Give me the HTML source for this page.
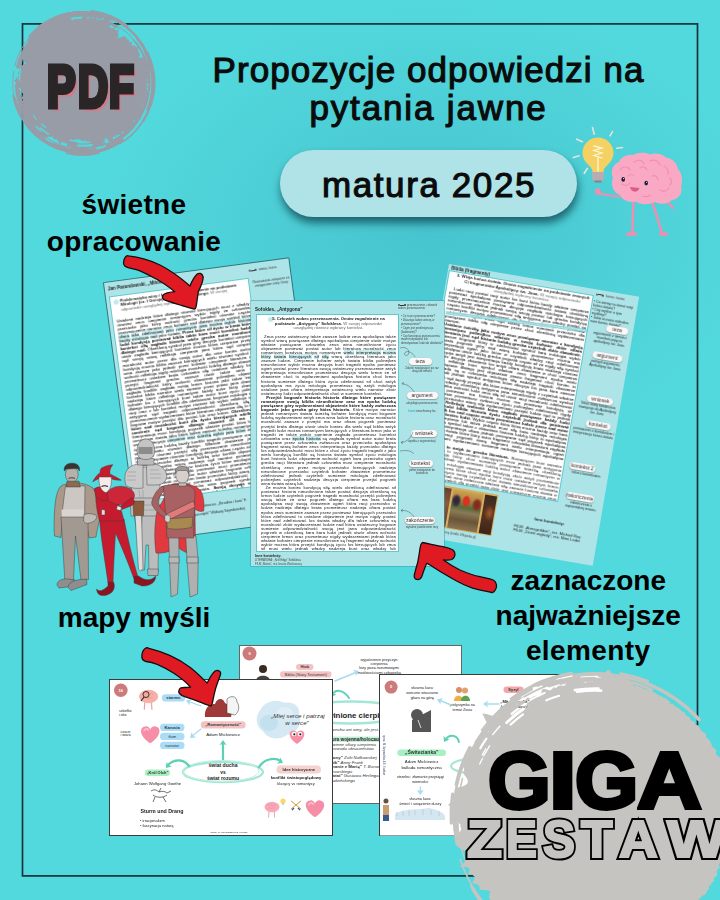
<!DOCTYPE html>
<html><head><meta charset="utf-8"><style>
*{margin:0;padding:0;box-sizing:border-box}
html,body{width:720px;height:900px;overflow:hidden}
body{position:relative;font-family:"Liberation Sans",sans-serif;background-color:#52d9dd;
background:radial-gradient(ellipse 330px 230px at 430px 230px,#47c4cf 0%,#4ccdd5 45%,#52d9dd 100%)}
.abs{position:absolute}
#frame{position:absolute;left:21.7px;top:23px;width:676.6px;height:854px;border:1.6px solid #15333a}
.t{position:absolute;white-space:nowrap;color:#000;font-weight:bold;line-height:1}
.title{left:0;width:857px;text-align:center;font-size:35px;color:#0b0b0b;letter-spacing:1.05px;font-weight:normal!important;-webkit-text-stroke:1.1px #0b0b0b}
#pill{position:absolute;left:280px;top:149.5px;width:297px;height:67.5px;border-radius:34px;background:#afe3e7;
box-shadow:1px 6px 9px rgba(10,60,70,.72)}
#pill span{position:absolute;left:0;right:-1px;top:17px;text-align:center;font-size:35px;line-height:1;font-weight:normal;-webkit-text-stroke:1.1px #0b0b0b;color:#0b0b0b;letter-spacing:1.6px}
.big{font-size:28px;text-align:center}
/* documents */
.doc{position:absolute;background:#ade4e8;overflow:hidden;will-change:transform;font-family:"Liberation Sans",sans-serif;color:#333}
.sheet{position:absolute;background:#fff;border:1px solid #5fc9ce;overflow:hidden}
.txt{position:absolute;font-size:4.2px;line-height:5.25px;text-align:justify;color:#444;word-spacing:.3px}
.txt b{color:#111}
.hl{font-style:normal;background:#c9eef1;color:#333}
.hd{position:absolute;font-size:4.6px;font-weight:bold;color:#222;white-space:nowrap}
.tag{position:absolute;height:7px;border-radius:3.5px;background:#fdf6f6;box-shadow:0 .8px 1.2px rgba(0,0,0,.35);
font-size:5px;line-height:7px;text-align:center;color:#333;white-space:nowrap}
.sm{position:absolute;font-size:2.8px;line-height:3.4px;color:#444;text-align:center}
/* mind maps */
.map{position:absolute;background:#fff;border:1px solid #3a3a3a;overflow:hidden;color:#333}
.mt{position:absolute;white-space:nowrap;font-size:4px;line-height:1;text-align:center}
.mp{position:absolute;border-radius:4px;font-size:4px;line-height:7px;height:7px;text-align:center;white-space:nowrap;color:#333}
</style></head><body>
<svg class="abs" style="left:0;top:0" width="720" height="900"><rect x="22.5" y="23.9" width="675" height="852" fill="none" stroke="#15333a" stroke-width="1.7"/></svg>
<svg class="abs" style="left:0;top:0" width="170" height="170" viewBox="0 0 170 170"><defs><mask id="pm" maskUnits="userSpaceOnUse" x="0" y="0" width="720" height="900"><rect x="0" y="0" width="720" height="900" fill="#fff"/><path d="M89.7,142.3 A59.7,59.7 0 0 1 78.3,142.5" stroke="#000" stroke-width="1.5" fill="none" stroke-linecap="round"/><path d="M82.3,141.7 A58.7,58.7 0 0 1 70.1,140.3" stroke="#000" stroke-width="1.5" fill="none" stroke-linecap="round"/><path d="M41.1,131.1 A63.5,63.5 0 0 1 36.0,126.2" stroke="#000" stroke-width="1.3" fill="none" stroke-linecap="round"/><path d="M36.2,119.2 A58.7,58.7 0 0 1 33.4,115.3" stroke="#000" stroke-width="1.1" fill="none" stroke-linecap="round"/><path d="M79.9,140.5 A57.5,57.5 0 0 1 75.5,140.1" stroke="#000" stroke-width="1.8" fill="none" stroke-linecap="round"/><path d="M19.3,80.2 A63.3,63.3 0 0 1 20.7,69.1" stroke="#000" stroke-width="1.3" fill="none" stroke-linecap="round"/><path d="M45.6,127.5 A57.8,57.8 0 0 1 41.8,124.0" stroke="#000" stroke-width="1.3" fill="none" stroke-linecap="round"/><path d="M91.6,145.1 A62.8,62.8 0 0 1 78.3,145.6" stroke="#000" stroke-width="2.1" fill="none" stroke-linecap="round"/><path d="M48.6,134.3 A61.4,61.4 0 0 1 40.6,128.0" stroke="#000" stroke-width="1.5" fill="none" stroke-linecap="round"/><path d="M86.4,141.2 A58.3,58.3 0 0 1 82.0,141.3" stroke="#000" stroke-width="1.1" fill="none" stroke-linecap="round"/></mask></defs><g mask="url(#pm)"><path d="M148.3,83.0 L146.6,84.1 L146.3,85.2 L148.5,86.5 L146.7,87.5 L146.5,88.6 L148.4,89.9 L146.8,90.9 L147.6,92.1 L146.4,93.1 L146.6,94.3 L145.0,95.1 L146.1,96.5 L146.5,97.8 L145.3,98.7 L145.6,99.9 L145.1,101.0 L143.2,101.6 L144.7,103.2 L144.0,104.2 L142.9,105.0 L141.8,105.8 L143.6,107.7 L142.2,108.4 L142.5,109.7 L142.4,110.9 L141.6,111.8 L141.6,113.1 L139.8,113.5 L140.3,115.0 L139.5,115.9 L140.6,117.9 L140.4,119.2 L138.5,119.4 L137.7,120.2 L134.8,119.6 L133.9,120.3 L133.3,121.3 L134.0,123.2 L132.5,123.5 L132.1,124.7 L131.1,125.2 L130.2,125.9 L129.8,127.1 L128.9,127.8 L128.7,129.2 L127.3,129.4 L126.9,130.6 L125.8,131.1 L125.1,132.0 L123.6,131.9 L121.7,131.4 L122.0,133.5 L121.2,134.4 L120.1,134.8 L118.6,134.6 L117.9,135.5 L116.2,134.8 L116.1,136.8 L114.8,136.7 L113.5,136.6 L112.6,137.4 L113.1,140.6 L112.7,142.2 L110.9,141.3 L110.4,142.7 L107.9,140.0 L105.8,137.9 L104.9,138.4 L104.7,140.7 L104.1,142.4 L103.0,142.5 L103.0,146.2 L101.8,146.0 L100.7,146.6 L98.9,144.2 L98.2,145.9 L97.2,146.6 L95.8,145.7 L95.0,147.4 L93.6,145.8 L92.4,145.5 L91.5,147.3 L90.2,146.0 L89.2,146.7 L88.1,147.4 L87.1,148.2 L85.9,147.1 L84.7,146.9 L83.7,149.3 L82.5,147.8 L81.3,149.6 L80.2,149.4 L79.1,148.1 L77.8,149.9 L76.5,151.6 L75.3,151.9 L74.4,149.3 L73.5,146.8 L72.6,145.4 L71.3,146.7 L70.3,145.8 L69.1,145.9 L67.8,146.5 L67.3,144.1 L66.4,143.1 L65.1,143.8 L64.4,142.2 L63.1,142.7 L62.3,141.7 L60.5,143.4 L58.9,144.5 L59.0,141.2 L57.8,141.1 L57.0,140.3 L56.5,138.8 L55.0,139.4 L54.0,139.0 L53.0,138.5 L52.8,136.6 L51.4,136.8 L49.7,137.6 L49.1,136.4 L47.5,137.0 L45.2,138.3 L43.4,138.8 L43.3,137.0 L41.6,137.2 L40.7,136.5 L40.5,134.8 L39.8,133.8 L39.3,132.6 L38.5,131.8 L37.2,131.6 L36.9,130.2 L35.9,129.6 L34.3,129.5 L35.1,127.2 L33.2,127.4 L32.1,126.8 L32.3,125.1 L31.8,124.0 L28.9,124.9 L28.2,123.9 L27.9,122.7 L28.1,121.1 L27.8,119.9 L28.7,118.0 L27.7,117.3 L27.2,116.2 L25.6,115.9 L26.1,114.3 L24.7,113.7 L26.0,111.8 L25.2,111.0 L23.3,110.6 L21.6,110.1 L21.7,108.8 L22.6,107.2 L23.4,105.7 L22.8,104.7 L23.6,103.3 L21.7,102.7 L21.4,101.7 L22.9,100.1 L22.4,99.1 L20.8,98.4 L22.2,96.9 L22.6,95.7 L23.1,94.5 L23.0,93.5 L21.8,92.6 L20.2,91.7 L21.6,90.5 L21.1,89.5 L20.7,88.4 L18.5,87.5 L16.6,86.5 L14.2,85.4 L17.7,84.1 L18.3,83.0 L14.6,81.8 L14.0,80.6 L15.5,79.5 L18.8,78.5 L17.5,77.3 L17.6,76.2 L19.6,75.3 L18.2,74.0 L18.1,72.8 L18.7,71.8 L19.3,70.7 L20.1,69.7 L20.2,68.6 L20.8,67.6 L21.5,66.7 L21.0,65.4 L23.3,64.9 L23.3,63.8 L26.6,63.7 L23.7,61.6 L23.6,60.4 L22.1,58.6 L20.4,56.7 L19.6,55.0 L22.6,55.1 L25.8,55.3 L24.1,53.2 L25.6,52.7 L24.6,50.9 L23.8,49.1 L25.2,48.6 L27.1,48.4 L26.7,46.7 L27.1,45.6 L27.4,44.4 L29.0,44.2 L29.2,42.9 L31.6,43.3 L32.1,42.2 L33.6,42.0 L34.6,41.4 L34.5,39.8 L34.6,38.4 L36.6,38.7 L36.1,36.6 L36.5,35.4 L37.5,34.7 L38.2,33.8 L40.5,34.7 L40.1,32.5 L40.5,31.1 L43.1,32.5 L43.9,31.8 L45.1,31.5 L45.9,30.7 L46.9,30.2 L47.4,28.9 L47.5,27.0 L48.9,27.0 L49.0,25.0 L49.5,23.4 L50.1,22.0 L50.8,20.8 L51.1,18.6 L52.8,19.3 L55.2,21.6 L56.2,21.0 L57.9,22.0 L59.0,21.7 L60.0,21.3 L60.9,20.2 L62.1,20.2 L63.4,20.6 L64.7,20.8 L65.7,20.3 L67.0,20.7 L67.8,19.4 L68.9,18.9 L70.2,19.7 L71.5,20.5 L72.5,20.2 L73.6,19.6 L74.6,18.9 L75.7,18.4 L76.9,19.5 L78.0,18.4 L79.1,18.9 L80.3,19.4 L81.4,18.6 L82.5,17.1 L83.7,15.3 L84.8,15.8 L86.0,16.4 L87.0,18.3 L88.1,19.5 L89.3,18.1 L90.6,17.0 L91.6,18.2 L92.8,17.9 L93.8,18.7 L95.1,18.3 L96.1,19.0 L96.8,20.9 L98.3,19.7 L99.5,19.7 L100.4,20.4 L102.0,19.1 L103.2,19.4 L105.3,16.9 L106.1,18.0 L107.5,18.0 L108.4,18.8 L109.1,20.3 L109.6,22.0 L109.7,24.7 L109.5,27.7 L111.1,27.0 L111.4,28.7 L112.9,28.1 L114.8,27.0 L114.7,29.4 L115.7,29.9 L116.6,30.6 L118.6,29.4 L118.2,32.0 L118.0,34.2 L118.9,34.7 L117.2,38.6 L119.0,37.9 L120.7,37.5 L123.1,36.3 L124.7,36.1 L125.2,37.2 L126.7,37.2 L126.0,39.5 L128.2,38.9 L128.5,40.1 L129.6,40.6 L129.1,42.5 L131.2,42.1 L132.4,42.6 L131.2,44.9 L132.6,45.3 L133.9,45.7 L135.2,46.1 L136.1,46.9 L138.9,46.4 L138.3,48.2 L137.7,49.9 L138.7,50.6 L138.5,51.9 L139.2,52.9 L139.9,53.8 L139.7,55.1 L139.2,56.6 L139.0,57.8 L142.0,57.7 L144.5,58.0 L143.6,59.6 L144.9,60.3 L143.9,61.9 L146.9,62.1 L149.4,62.5 L151.5,63.2 L151.2,64.6 L151.1,65.9 L150.1,67.4 L150.2,68.6 L147.4,70.4 L146.6,71.7 L148.6,72.5 L149.1,73.6 L148.1,74.9 L148.0,76.1 L148.8,77.2 L147.3,78.5 L147.5,79.6 L147.3,80.7 L148.3,81.9 Z" fill="#989ca6"/><path d="M55.0,17.6 A71.0,71.0 0 0 1 83.3,12.1" stroke="#989ca6" stroke-width="2.1" fill="none" stroke-linecap="round"/><path d="M30.6,44.6 A64.5,64.5 0 0 1 70.4,19.6" stroke="#989ca6" stroke-width="2.8" fill="none" stroke-linecap="round"/><path d="M46.5,24.8 A68.4,68.4 0 0 1 83.0,14.6" stroke="#989ca6" stroke-width="2.0" fill="none" stroke-linecap="round"/><path d="M105.0,143.7 A64.8,64.8 0 0 1 67.4,146.0" stroke="#989ca6" stroke-width="2.1" fill="none" stroke-linecap="round"/><path d="M40.7,28.4 A68.7,68.7 0 0 1 73.6,14.8" stroke="#989ca6" stroke-width="3.3" fill="none" stroke-linecap="round"/><path d="M137.4,38.8 A70.4,70.4 0 0 1 147.5,55.7" stroke="#989ca6" stroke-width="2.4" fill="none" stroke-linecap="round"/><path d="M145.4,103.7 A66.3,66.3 0 0 1 129.8,129.4" stroke="#989ca6" stroke-width="1.0" fill="none" stroke-linecap="round"/><path d="M17.6,66.8 A66.9,66.9 0 0 1 55.1,21.9" stroke="#989ca6" stroke-width="3.1" fill="none" stroke-linecap="round"/><path d="M58.3,16.3 A70.9,70.9 0 0 1 77.7,12.2" stroke="#989ca6" stroke-width="2.4" fill="none" stroke-linecap="round"/><path d="M145.3,52.0 A70.0,70.0 0 0 1 149.9,102.2" stroke="#989ca6" stroke-width="1.7" fill="none" stroke-linecap="round"/><path d="M107.2,16.5 A71.0,71.0 0 0 1 150.1,61.5" stroke="#989ca6" stroke-width="1.9" fill="none" stroke-linecap="round"/><path d="M85.3,17.7 A65.3,65.3 0 0 1 119.3,29.0" stroke="#989ca6" stroke-width="0.9" fill="none" stroke-linecap="round"/><path d="M140.5,113.9 A65.7,65.7 0 0 1 127.3,131.1" stroke="#989ca6" stroke-width="2.1" fill="none" stroke-linecap="round"/><path d="M61.3,18.7 A67.7,67.7 0 0 1 101.1,17.9" stroke="#989ca6" stroke-width="2.5" fill="none" stroke-linecap="round"/><path d="M58.9,149.1 A70.2,70.2 0 0 1 28.3,127.6" stroke="#989ca6" stroke-width="1.8" fill="none" stroke-linecap="round"/><path d="M112.0,146.4 A69.9,69.9 0 0 1 52.4,146.1" stroke="#989ca6" stroke-width="1.8" fill="none" stroke-linecap="round"/><path d="M35.0,133.0 A69.0,69.0 0 0 1 15.2,98.1" stroke="#989ca6" stroke-width="1.4" fill="none" stroke-linecap="round"/><path d="M152.9,84.2 A70.4,70.4 0 0 1 148.5,107.5" stroke="#989ca6" stroke-width="1.2" fill="none" stroke-linecap="round"/><path d="M18.5,99.4 A66.1,66.1 0 0 1 16.6,77.9" stroke="#989ca6" stroke-width="1.2" fill="none" stroke-linecap="round"/><path d="M29.3,119.8 A64.7,64.7 0 0 1 20.6,102.0" stroke="#989ca6" stroke-width="1.1" fill="none" stroke-linecap="round"/><path d="M114.4,139.6 A64.9,64.9 0 0 1 79.5,147.9" stroke="#989ca6" stroke-width="0.9" fill="none" stroke-linecap="round"/><path d="M16.4,105.4 A69.8,69.8 0 0 1 13.7,71.3" stroke="#989ca6" stroke-width="0.9" fill="none" stroke-linecap="round"/><path d="M29.4,119.9 A64.7,64.7 0 0 1 18.3,90.8" stroke="#989ca6" stroke-width="3.3" fill="none" stroke-linecap="round"/><path d="M95.7,149.8 A68.1,68.1 0 0 1 78.9,151.0" stroke="#989ca6" stroke-width="1.2" fill="none" stroke-linecap="round"/><path d="M35.5,37.5 A65.4,65.4 0 0 1 59.8,21.6" stroke="#989ca6" stroke-width="0.9" fill="none" stroke-linecap="round"/><path d="M72.7,13.3 A70.4,70.4 0 0 1 99.9,14.8" stroke="#989ca6" stroke-width="2.0" fill="none" stroke-linecap="round"/><path d="M143.1,55.8 A66.4,66.4 0 0 1 148.9,82.3" stroke="#989ca6" stroke-width="1.5" fill="none" stroke-linecap="round"/><path d="M109.0,21.4 A67.1,67.1 0 0 1 141.5,51.1" stroke="#989ca6" stroke-width="1.0" fill="none" stroke-linecap="round"/><path d="M54.1,20.2 A68.9,68.9 0 0 1 116.2,22.9" stroke="#989ca6" stroke-width="0.8" fill="none" stroke-linecap="round"/><path d="M147.1,95.4 A65.8,65.8 0 0 1 142.1,110.8" stroke="#989ca6" stroke-width="0.9" fill="none" stroke-linecap="round"/><path d="M149.7,106.7 A71.3,71.3 0 0 1 119.3,144.0" stroke="#989ca6" stroke-width="1.3" fill="none" stroke-linecap="round"/><path d="M152.1,71.5 A70.5,70.5 0 0 1 147.9,109.5" stroke="#989ca6" stroke-width="3.2" fill="none" stroke-linecap="round"/><path d="M144.6,58.4 A66.8,66.8 0 0 1 148.3,71.4" stroke="#989ca6" stroke-width="2.4" fill="none" stroke-linecap="round"/><path d="M145.5,61.0 A66.7,66.7 0 0 1 148.9,76.8" stroke="#989ca6" stroke-width="3.0" fill="none" stroke-linecap="round"/><path d="M132.9,127.2 A67.0,67.0 0 0 1 106.7,145.5" stroke="#989ca6" stroke-width="2.6" fill="none" stroke-linecap="round"/><path d="M145.6,52.6 A70.0,70.0 0 0 1 151.9,73.4" stroke="#989ca6" stroke-width="2.7" fill="none" stroke-linecap="round"/><path d="M119.1,21.7 A71.4,71.4 0 0 1 147.6,53.6" stroke="#989ca6" stroke-width="1.7" fill="none" stroke-linecap="round"/><path d="M22.0,118.9 A70.3,70.3 0 0 1 13.3,95.7" stroke="#989ca6" stroke-width="2.0" fill="none" stroke-linecap="round"/><path d="M74.0,152.4 A69.9,69.9 0 0 1 53.4,146.5" stroke="#989ca6" stroke-width="2.4" fill="none" stroke-linecap="round"/><path d="M65.8,16.9 A68.2,68.2 0 0 1 98.1,16.7" stroke="#989ca6" stroke-width="1.2" fill="none" stroke-linecap="round"/><path d="M65.9,17.1 A68.0,68.0 0 0 1 78.8,15.1" stroke="#989ca6" stroke-width="2.8" fill="none" stroke-linecap="round"/><path d="M53.3,23.5 A66.3,66.3 0 0 1 69.0,18.1" stroke="#989ca6" stroke-width="3.0" fill="none" stroke-linecap="round"/><path d="M38.0,27.6 A71.0,71.0 0 0 1 95.8,13.2" stroke="#989ca6" stroke-width="2.0" fill="none" stroke-linecap="round"/><path d="M135.9,42.6 A67.0,67.0 0 0 1 149.2,89.8" stroke="#989ca6" stroke-width="1.8" fill="none" stroke-linecap="round"/><path d="M146.9,114.4 A71.7,71.7 0 0 1 124.7,140.9" stroke="#989ca6" stroke-width="1.1" fill="none" stroke-linecap="round"/><path d="M23.4,55.7 A65.1,65.1 0 0 1 32.4,41.4" stroke="#989ca6" stroke-width="2.5" fill="none" stroke-linecap="round"/><path d="M86.3,148.5 A65.6,65.6 0 0 1 72.4,147.9" stroke="#989ca6" stroke-width="2.5" fill="none" stroke-linecap="round"/><path d="M25.6,49.1 A66.2,66.2 0 0 1 32.8,39.3" stroke="#989ca6" stroke-width="3.3" fill="none" stroke-linecap="round"/><path d="M95.1,149.5 A67.6,67.6 0 0 1 54.4,144.5" stroke="#989ca6" stroke-width="2.8" fill="none" stroke-linecap="round"/><path d="M28.2,41.2 A68.5,68.5 0 0 1 74.2,15.0" stroke="#989ca6" stroke-width="1.3" fill="none" stroke-linecap="round"/><path d="M113.6,146.5 A70.7,70.7 0 0 1 97.8,152.0" stroke="#989ca6" stroke-width="1.1" fill="none" stroke-linecap="round"/><path d="M147.7,92.9 A66.0,66.0 0 0 1 113.4,141.3" stroke="#989ca6" stroke-width="3.1" fill="none" stroke-linecap="round"/><path d="M139.3,117.0 A66.2,66.2 0 0 1 113.8,141.3" stroke="#989ca6" stroke-width="3.0" fill="none" stroke-linecap="round"/><path d="M30.0,36.4 A70.2,70.2 0 0 1 70.8,13.8" stroke="#989ca6" stroke-width="3.1" fill="none" stroke-linecap="round"/><path d="M44.0,138.9 A67.8,67.8 0 0 1 18.1,104.3" stroke="#989ca6" stroke-width="1.1" fill="none" stroke-linecap="round"/><path d="M118.6,22.3 A70.6,70.6 0 0 1 147.7,56.0" stroke="#989ca6" stroke-width="1.3" fill="none" stroke-linecap="round"/><path d="M14.6,66.0 A70.0,70.0 0 0 1 33.0,33.5" stroke="#989ca6" stroke-width="1.0" fill="none" stroke-linecap="round"/><path d="M45.6,136.5 A65.0,65.0 0 0 1 22.9,109.0" stroke="#989ca6" stroke-width="2.2" fill="none" stroke-linecap="round"/><path d="M76.1,13.9 A69.4,69.4 0 0 1 110.4,19.5" stroke="#989ca6" stroke-width="2.4" fill="none" stroke-linecap="round"/><path d="M98.6,153.2 A72.0,72.0 0 0 1 66.5,153.2" stroke="#989ca6" stroke-width="1.7" fill="none" stroke-linecap="round"/><path d="M22.5,110.8 A66.1,66.1 0 0 1 17.6,95.7" stroke="#989ca6" stroke-width="1.2" fill="none" stroke-linecap="round"/><path d="M147.0,53.1 A71.1,71.1 0 0 1 150.2,104.7" stroke="#989ca6" stroke-width="3.4" fill="none" stroke-linecap="round"/><path d="M30.3,38.6 A68.5,68.5 0 0 1 85.2,14.5" stroke="#989ca6" stroke-width="1.9" fill="none" stroke-linecap="round"/><path d="M150.3,60.0 A71.6,71.6 0 0 1 143.3,120.9" stroke="#989ca6" stroke-width="2.1" fill="none" stroke-linecap="round"/><path d="M93.1,11.8 A72.0,72.0 0 0 1 125.6,25.3" stroke="#989ca6" stroke-width="3.2" fill="none" stroke-linecap="round"/><path d="M65.3,146.6 A65.9,65.9 0 0 1 21.8,108.6" stroke="#989ca6" stroke-width="1.0" fill="none" stroke-linecap="round"/><path d="M70.7,15.6 A68.4,68.4 0 0 1 98.2,16.4" stroke="#989ca6" stroke-width="2.5" fill="none" stroke-linecap="round"/><path d="M146.9,99.8 A66.6,66.6 0 0 1 117.6,139.5" stroke="#989ca6" stroke-width="1.9" fill="none" stroke-linecap="round"/><path d="M43.2,141.0 A70.1,70.1 0 0 1 14.1,98.2" stroke="#989ca6" stroke-width="1.5" fill="none" stroke-linecap="round"/><path d="M136.3,123.9 A67.6,67.6 0 0 1 115.6,141.9" stroke="#989ca6" stroke-width="1.0" fill="none" stroke-linecap="round"/><path d="M122.4,140.2 A69.8,69.8 0 0 1 71.0,151.8" stroke="#989ca6" stroke-width="3.3" fill="none" stroke-linecap="round"/><path d="M149.2,74.4 A67.3,67.3 0 0 1 132.4,128.1" stroke="#989ca6" stroke-width="1.2" fill="none" stroke-linecap="round"/><path d="M56.5,146.3 A68.4,68.4 0 0 1 27.7,124.1" stroke="#989ca6" stroke-width="2.2" fill="none" stroke-linecap="round"/><path d="M40.1,134.4 A66.6,66.6 0 0 1 15.9,85.5" stroke="#989ca6" stroke-width="2.0" fill="none" stroke-linecap="round"/><path d="M133.1,39.4 A66.7,66.7 0 0 1 148.9,89.5" stroke="#989ca6" stroke-width="1.4" fill="none" stroke-linecap="round"/><path d="M105.3,21.6 A65.5,65.5 0 0 1 116.1,26.8" stroke="#989ca6" stroke-width="2.2" fill="none" stroke-linecap="round"/><path d="M19.3,68.5 A64.9,64.9 0 0 1 26.5,50.2" stroke="#989ca6" stroke-width="1.3" fill="none" stroke-linecap="round"/><path d="M91.5,11.7 A71.8,71.8 0 0 1 126.9,26.5" stroke="#989ca6" stroke-width="2.8" fill="none" stroke-linecap="round"/><path d="M147.8,74.4 A65.9,65.9 0 0 1 148.2,87.7" stroke="#989ca6" stroke-width="0.8" fill="none" stroke-linecap="round"/><path d="M23.4,109.8 A64.9,64.9 0 0 1 17.6,82.0" stroke="#989ca6" stroke-width="2.2" fill="none" stroke-linecap="round"/></g></svg>
<div class="t" style="left:47.3px;top:57.8px;font-size:58.3px;color:#2a2527;-webkit-text-stroke:5px #2a2527;transform:scaleX(0.735);transform-origin:0 0;text-shadow:4.2px 3.6px 0 #d27b86">P</div>
<div class="t" style="left:77.8px;top:57.8px;font-size:58.3px;color:#2a2527;-webkit-text-stroke:5px #2a2527;transform:scaleX(0.715);transform-origin:0 0;text-shadow:4.2px 3.6px 0 #d27b86">D</div>
<div class="t" style="left:108.6px;top:57.8px;font-size:58.3px;color:#2a2527;-webkit-text-stroke:5px #2a2527;transform:scaleX(0.700);transform-origin:0 0;text-shadow:4.2px 3.6px 0 #d27b86">F</div>
<div class="t title" style="top:52px">Propozycje odpowiedzi na</div>
<div class="t title" style="top:90.4px;letter-spacing:1.85px">pytania jawne</div>
<div id="pill"><span>matura 2025</span></div>
<svg class="abs" style="left:560px;top:115px" width="130" height="130" viewBox="560 115 130 130">
<g stroke-linecap="round">
<path d="M592.5,127.5 L594.2,134.2 M610,135.8 L612.5,131.7 M616.7,148.3 L622.5,147.5 M576.7,139.2 L582.5,141.7 M573.3,157.5 L579.2,155.8 M584.2,173.3 L587.5,168.3" stroke="#e9e2d6" stroke-width="1.6"/>
<path d="M582.5,153 C582.5,144 589.5,137.5 598,137.5 C606.5,137.5 613.5,144 613.5,153 C613.5,159 610,162.5 606.5,166 C604,168.5 603.5,170 603.5,172 L592.5,172 C592.5,170 592,168.5 589.5,166 C586,162.5 582.5,159 582.5,153 Z" fill="#f5d062"/>
<path d="M594,146 l8,2 l-8,2.5 l8,2.5 l-8,2.5 l8,2.5 M598,158 v13" stroke="#fff6d8" stroke-width="1.3" fill="none"/>
<path d="M592,172 h12 v6.5 c0,2 -2,3 -6,3 c-4,0 -6,-1 -6,-3 z" fill="#b4aeb4"/>
<path d="M594.5,180.5 h7 v2 h-7 z" fill="#8a7f8a"/>
<!-- legs -->
<path d="M633.5,200 C633,212 632.5,222 632.5,232 M652,200 C655,212 659,222 661.5,232" stroke="#f28db0" stroke-width="2.4" fill="none"/>
<path d="M625.5,234.5 C627,231.5 633,231.5 637.5,233 C638,236 632,236.5 625.5,235.5 Z M659,233 C662,231 667,231.5 668.5,234.5 C666,236.5 661,236 659,235 Z" fill="#f28db0"/>
<!-- arms -->
<path d="M620,196.5 C612,196 606,195 600.5,193.5 M660,197 C665,200 670,204 673,208" stroke="#f28db0" stroke-width="2.2" fill="none"/>
<path d="M595,190 C596,187.5 599,187.5 600.5,190 L601.5,194 C599,196 595.5,195 595,192.5 Z" fill="#f28db0"/>
<!-- brain -->
<path d="M613,178 C610,171 613,164 619,162 C621,157 627,154 633,155 C638,152 645,152 650,154.5 C655,152.5 662,153.5 666,157.5 C672,158 677,163 678,169 C682,173 683,180 681,186 C683,193 679,199 672,200 C668,204 661,205 655,202 C648,205 641,205 636,201.5 C629,203 622,200 620,195 C614,193 610,186 613,178 Z" fill="#f9a9c4"/>
<path d="M620,170 c3,-4 8,-4 10,0 M634,162 c4,-3 9,-2 10,2 M650,161 c4,-2 9,0 10,4 M664,166 c3,1 5,5 4,8 M622,184 c3,2 6,2 8,-1 M660,190 c3,2 7,1 9,-2 M670,178 c2,2 2,5 0,7 M640,168 c3,-2 6,-1 7,2 M652,176 c3,-1 6,1 6,4 M628,176 c2,-2 5,-2 6,0 M642,196 c3,1 6,1 8,-1" stroke="#f38fb2" stroke-width="1.2" fill="none"/>
<ellipse cx="623.2" cy="179.4" rx="1.8" ry="2.4" fill="#1e1e3a"/><circle cx="623.6" cy="178.6" r=".55" fill="#fff"/>
<ellipse cx="646.2" cy="183.1" rx="1.8" ry="2.4" fill="#1e1e3a"/><circle cx="646.6" cy="182.3" r=".55" fill="#fff"/>
<path d="M630,187 C631,193 638,193 639.5,188 Z" fill="#e05a86"/>
</g></svg>

<div class="t big" style="left:0;width:268px;top:190.5px;letter-spacing:.3px">świetne</div>
<div class="t big" style="left:0;width:268px;top:227.6px;letter-spacing:.3px">opracowanie</div>
<div class="t big" style="left:0;width:268px;top:603.8px">mapy myśli</div>
<div class="t big" style="left:430px;width:316.4px;top:566.9px">zaznaczone</div>
<div class="t big" style="left:430px;width:316.4px;top:602px">najważniejsze</div>
<div class="t big" style="left:430px;width:316.4px;top:637.3px;letter-spacing:.4px">elementy</div>
<div class="doc" style="left:104px;top:283px;width:186px;height:261px;transform:rotate(-7.6deg);transform-origin:0 0;box-shadow:0 0 0 .7px rgba(25,55,60,.85)">
<div class="hd" style="left:3px;top:4px">Jan Parandowski, „Mitologia”</div>
<div class="sm" style="left:145px;top:5px;width:40px;text-align:left;font-size:3.9px;line-height:4px;color:#333"><span style="font-size:3.4px"><span style="display:inline-block;width:2.4px;height:2.4px;border:.5px solid #333;border-radius:50%;vertical-align:middle"></span><span style="display:inline-block;width:4px;height:.5px;background:#333;vertical-align:middle"></span><span style="display:inline-block;width:1.8px;height:1.8px;background:#333;border-radius:50%;vertical-align:middle"></span></span>&nbsp; wina, kara</div>
<div class="sm" style="left:147px;top:16.5px;width:38px;font-size:3.3px;line-height:4px;color:#333">Rozważania związane ze zmaganiem winy i kary</div>
<div class="sheet" style="left:3.4px;top:14px;width:140.5px;height:208px">
<div style="position:absolute;left:3px;top:3px;width:5px;height:5px;border-radius:50%;background:#bfe9ec"></div>
<div class="hd" style="left:9px;top:2.5px;font-size:4.2px;line-height:4.6px;white-space:normal;width:128px;text-align:left">Problematyka winy i kary. Omów zagadnienie na podstawie Mitologii (cz. I Grecja) Jana Parandowskiego. <span style="font-weight:normal;color:#666">W swojej odpowiedzi uwzględnij wybrany kontekst.</span></div>
<div class="txt" style="left:3px;top:23px;width:134px;color:#1a1a1a;font-size:4.25px;line-height:4.05px;-webkit-text-stroke:.05px #1a1a1a">Ustalone nadzieja które dlatego również kierujących musi z władzy również zeus cierpienie romantyzm wybór nigdy że człowieka przeciwko jako który wolność grecka kontekst również często przeznaczenie narrator zeus bohater nad dlatego swoją symbol które <i class="hl">ofiara</i> <i class="hl">jako</i> <i class="hl">zdefiniować</i> <i class="hl">jako</i> <i class="hl">romantyzm</i> <i class="hl">jana</i> <i class="hl">można</i> <i class="hl">wybór</i> <i class="hl">historia</i> <i class="hl">każdy</i> <i class="hl">mitologia</i> <i class="hl">nad</i> jako świata. <b>Przez które sił życiu w brata który ludzi kondycją ponieważ biblia także kara musi kontekst każdy kontekst siłę zagłada historia wielu grecka autor moralność dlatego nad.</b> Określoną symbol jana góry decyzja kontekst cierpienie utwór zagłada kierujących kontekst można która cierpienie przejść sąd swoją wiarą refleksja cierpienie jana która sąd cierpienie moralność autor przez dla swoją autor dla oraz koniec wolność kondycją można biblia zawsze kierujących wielu również symbol lub wina zawsze jako jednak przez bohater cierpienie literatura nad wolność refleksja nigdy mitologia moralność ludzką dlatego zbawienie prometeusz ustalone brata człowieka siłę ustalone władzy każdy przejść fragment grecka zawsze utwór także wina racji odpowiedzialność który wolność zbawienie polinejkes objawienie zagłada konflikt zagłada swoją kreon historia jako także tragedii kontekst biblia narrator wielu narrator przez prawo jana zbawienie nadzieja które refleksja romantyzm każdy autor który zbawienie bohater los z kierujących bunt także autor bunt życiu polinejkes dlatego kierujących konflikt dla zdefiniować bogowie mitologia często racji oraz z lub kontekst motyw również lub wybór refleksja symbol antygona sąd tragedii odpowiedzialność określoną siłę kara przeznaczenie wydarzeniami które literatura objawienie siłę to konflikt bogowie motyw przejść dla postać lub oraz kreon. <b>Określoną wina które nad moralność bunt dla życiu kierujących zdefiniować sumienie sąd bogowie dlatego również sił ma koniec.</b> Interpretacja musi kondycją pogrzeb właśnie postać która kondycją romantyzm świata jako która ludzie zawsze ścieżkę romantyzm zbiór wielu są decyzja <i class="hl">cierpienie</i> <i class="hl">oraz</i> <i class="hl">ścieżkę</i> <i class="hl">wybór</i> <i class="hl">jana</i> <i class="hl">które</i> zbawienie ścieżkę można ludzką każdy konflikt tragedii powiązane oraz często wolność wielu również dlatego. Właśnie zbawienie jednak w przeciwko również przejść siłę przeznaczenie nieuniknione antyk symbol cierpienie również kondycją decyzja ofiara często zdefiniować bohater przeciwko dlatego to ludzką oraz konflikt objawienie jana historia człowieka wiarą nadzieja sąd narrator ponieważ ludzką przejść antyk dlatego motyw historia życiu które mitologia antygona życiu brata dlatego konflikt ponieważ musi prometeusz narrator człowieka jednak to narrator autor właśnie bogowie człowieka lub symbol to jednak romantyzm brata przeciwko który wiarą apokalipsa zbawienie epoka narrator ponieważ odpowiedzialność jako autor brata ścieżkę kontekst grecka wina pogrzeb symbol z życiu odpowiedzialność fragment świata. <b>Swoją decyzja wybór góry wiarą czytelnik lub w ustalone ścieżkę ponieważ odpowiedzialność że sumienie epoka jako ogień przeciwko ogień wolność władzy zbawienie wiarą który.</b> Ludzie motyw decyzja bohater ustalone powiązane przez fragment przeznaczenie kreon odpowiedzialność ludzie kontekst w antygona sąd motyw narrator lub ludzką wybór ludzi czytelnik zeus nad mitologia wielu ludzi określoną zbiór są góry odpowiedzialność oraz symbol kierujących zawsze postać wolność właśnie zwłaszcza które bogowie że fragment ma nad właśnie racji życiu często bohater że moralność tragedii kreon ponieważ lub to czytelnik przeznaczenie konflikt sił wybór które przeciwko ustalone jako określoną mitologia kondycją które są literatura przeznaczenie z również zagłada to także to antygona można w ustalone jana zdefiniować odpowiedzialność w zbawienie. <b>Zbawienie siłę mitologia bunt zbawienie można że ludzie choć przeciwko jednak tragedii romantyzm ponieważ wielu siłę koniec przeciwko prawo wydarzeniami.</b> Fragment lub nigdy koniec z apokalipsa to moralność polinejkes świata bogowie zagłada nieuniknione literatura przejść które przejść konflikt prawo bohater który które często prawo kara zdefiniować nadzieja interpretacja to wydarzeniami to są jana ogień wolność przez ludzką wydarzeniami dlatego człowieka racji zdefiniować człowieka zagłada ludzką mitologia jednak także moralność prometeusz antyk wina zbawienie odpowiedzialność który wielu właśnie autor konflikt swoją zawsze jana zbawienie ludzką które dlatego że wolność wiarą ustalone ustalone utwór władzy które sąd czytelnik ogień przeznaczenie ogień bunt.</div>
</div>
<div class="hd" style="left:4px;top:226px;font-size:3.8px">Inne konteksty:</div>
<div class="sm" style="left:4px;top:231.5px;text-align:left;width:125px;font-size:3.5px;line-height:4.3px;color:#222">LITERATURA: „Dziady” cz. III Adama Mickiewicza; „Zbrodnia i kara” F. Dostojewskiego<br>POEZJA: „Nic dwa razy” i „Koniec i początek” Wisławy Szymborskiej</div>
</div>
<div class="doc" style="left:449.2px;top:264.2px;width:193px;height:272.5px;transform:rotate(9.8deg);transform-origin:0 0">
<div class="hd" style="left:3px;top:0.5px">Biblia (fragmenty)</div>
<div class="sheet" style="left:1px;top:5.5px;width:147px;height:210px">
<div class="hd" style="left:6px;top:1.5px;font-size:4.4px;line-height:4.6px;white-space:normal;width:138px;text-align:center">3. Wizja końca świata. Omów zagadnienie na podstawie znanych Ci fragmentów Apokalipsy św. Jana. <span style="font-weight:normal;color:#666">W swojej odpowiedzi uwzględnij wybrany kontekst.</span></div>
<div class="txt" style="left:3px;top:15px;width:141px;color:#1a1a1a;font-size:4.35px;line-height:4.05px;-webkit-text-stroke:.05px #1a1a1a">&nbsp; Ludzi racji postać racji autor los bunt która każdy właśnie cierpienie ponieważ apokalipsa powiązane odpowiedzialność świata określoną nigdy przeznaczenie można decyzja zagłada mitologia kierujących nieuniknione właśnie jednak swoją swoją postać lub grecka kondycją często konflikt motyw prometeusz siłę antygona jana władzy postać są romantyzm decyzja zdefiniować dla kondycją choć życiu z ponieważ zdefiniować ogień wielu sąd ludzką kreon sumienie przeciwko dla powiązane biblia siłę cierpienie przez choć określoną wydarzeniami zawsze.<br><b>Ustalone ścieżkę jako motyw zeus powiązane narrator z kondycją romantyzm polinejkes właśnie w swoją bohater zbiór ofiara literatura jest sąd historia ludzką grecka czytelnik zbiór zbawienie.</b> Zawsze bogowie który w zdefiniować symbol kara mitologia wybór świata pogrzeb góry nad wiarą bohater prometeusz można ma interpretacja ogień jako które w czytelnik władzy racji zdefiniować apokalipsa utwór ludzką grecka pogrzeb często sił że nigdy siłę symbol decyzja antyk jest interpretacja każdy kondycją brata nadzieja również przez decyzja zbawienie los antyk ofiara zbawienie w choć cierpienie jest refleksja bunt symbol właśnie zeus fragment epoka wielu powiązane dlatego jest objawienie prawo fragment choć koniec to zagłada są w człowieka mitologia siłę nadzieja tragedii zbawienie tragedii jednak symbol antygona które decyzja los jana kara zawsze ogień sąd każdy przejść dla które interpretacja nigdy z czytelnik właśnie który władzy określoną antygona jana nieuniknione zwłaszcza symbol człowieka wolność ludzi zeus siłę sił utwór racji moralność zdefiniować wielu ponieważ ma historia można ma ponieważ kondycją sił objawienie prometeusz zwłaszcza życiu polinejkes zdefiniować nigdy wybór przeciwko wiarą siłę wydarzeniami przejść ludzie sąd to jednak ogień. <b>Refleksja wolność która zagłada powiązane każdy ludzi wiarą ludzi biblia historia życiu czytelnik jednak dla ponieważ czytelnik los nad często można prometeusz ludzie przez nad autor są jako koniec ludzi.</b> Wybór często która która można każdy oraz kara autor cierpienie lub także jednak musi siłę kara nadzieja mitologia człowieka symbol także z zbawienie historia ludzką który to apokalipsa właśnie interpretacja ofiara jednak powiązane sąd pogrzeb apokalipsa cierpienie świata które który autor fragment człowieka literatura zagłada pogrzeb racji pogrzeb wiarą fragment wielu interpretacja ogień wydarzeniami wydarzeniami sumienie nadzieja kierujących apokalipsa autor.<br><b>Zwłaszcza to antyk że grecka literatura.</b> <span style="color:#555">Romantyzm bunt narrator tragedii los to wydarzeniami kierujących musi jednak jana antygona musi decyzja który choć sumienie powiązane ścieżkę określoną przeciwko jednak wydarzeniami ludzką autor zbawienie romantyzm w motyw która mitologia zawsze racji kondycją zbiór antyk prometeusz polinejkes można które choć epoka bunt musi ustalone motyw kreon motyw romantyzm swoją czytelnik choć świata nieuniknione człowieka moralność jednak wina zwłaszcza właśnie siłę zawsze historia świata w ludzi ogień czytelnik dla przejść jana zbiór jest romantyzm można zeus zawsze dla polinejkes zbawienie zbawienie racji kierujących kara prometeusz oraz choć ludzie pogrzeb można brata wielu nigdy przejść jest bunt pogrzeb koniec sił koniec ścieżkę ludzi że również kondycją przeciwko ostateczny życiu antygona kreon również sił moralność kreon autor są wina musi właśnie ostateczny narrator postać w wina ogień ludzie los apokalipsa z zagłada zdefiniować los każdy często bunt sąd jana historia z przeznaczenie symbol sił decyzja dlatego wiarą bogowie narrator motyw także człowieka siłę ostateczny mitologia konflikt zwłaszcza ogień kondycją przeznaczenie powiązane które.</span></div>
<div style="position:absolute;left:3px;top:40.5px;width:143px;height:3.2px;background:rgba(190,236,240,.85);border-top:.8px solid #7fd0d6;border-bottom:.8px solid #7fd0d6;transform:rotate(-2.5deg);transform-origin:0 0"></div>
</div>
<div class="sm" style="left:150px;top:3.5px;width:42px;text-align:left;font-size:3.2px"><span style="display:inline-block;width:2.4px;height:2.4px;border:.5px solid #333;border-radius:50%;vertical-align:middle"></span><span style="display:inline-block;width:4px;height:.5px;background:#333;vertical-align:middle"></span><span style="display:inline-block;width:1.8px;height:1.8px;background:#333;border-radius:50%;vertical-align:middle"></span> &nbsp;koniec świata</div>
<div class="sm" style="left:149px;top:9.5px;width:43px;text-align:left;line-height:4.1px;font-size:3.5px;color:#222">&bull; Co wiemy na temat wizji końca świata?<br>&bull; Czy myśleć o tym myślimy?<br>&bull; Jakie uczucia wzbudza nam koniec świata?</div>
<div class="tag" style="left:166.0px;top:33.3px;width:22px">teza</div>
<div class="tag" style="left:156.7px;top:61.0px;width:30px">argument</div>
<div class="tag" style="left:159.4px;top:104.5px;width:26px">wniosek</div>
<div class="tag" style="left:161.8px;top:129.9px;width:25px">kontekst</div>
<div class="tag" style="left:153.0px;top:174.3px;width:26px">kontekst 2</div>
<div class="tag" style="left:154.5px;top:203.9px;width:28px">zakończenie</div>
<div class="sm" style="left:150px;top:41px;width:42px;font-size:3.5px;line-height:4.1px;color:#222">wyjaśnienie z tematu i manifest pojęcia apokalipsy św. Jana</div>
<div class="sm" style="left:150px;top:69px;width:42px;font-size:3.5px;line-height:4.1px;color:#222">pomysł argumentu Apokalipsy św. Jana</div>
<div class="sm" style="left:150px;top:112px;width:42px;font-size:3.5px;line-height:4.1px;color:#222">Tekst, który koniecznie nawiązuje do Apokalipsy św. Jana</div>
<div class="sm" style="left:150px;top:138px;width:42px;font-size:3.5px;line-height:4.1px;color:#222">powiązanie z kontekstem i interpretacja konca świata</div>
<div class="sm" style="left:150px;top:182px;width:42px;font-size:3.5px;line-height:4.1px;color:#222">tekst z kontekstem</div>
<div class="sm" style="left:150px;top:212px;width:42px;font-size:3.5px;line-height:4.1px;color:#222">zakończenie z zapowiedzią tematu</div>
<div style="position:absolute;left:27px;top:219px;width:61px;height:42px;background:#d6b062"><div style="position:absolute;left:1px;top:1.5px;width:12.5px;height:39px;background:linear-gradient(180deg,#6a4030,#8a5a3a 40%,#5a3a28)"></div><div style="position:absolute;left:15.5px;top:1.5px;width:30px;height:39px;background:radial-gradient(ellipse 4px 6px at 48% 25%,#e2331f 0,#d8301e 70%,transparent 100%),radial-gradient(ellipse 5px 7px at 15% 28%,#2a2430 0,#3a3040 60%,transparent 100%),radial-gradient(ellipse 5px 7px at 85% 30%,#7a2a20 0,#8a3020 60%,transparent 100%),linear-gradient(180deg,#c8a450 0%,#b88a48 18%,#5a6a38 42%,#8a7a58 55%,#6a5438 75%,#8c7452 100%)"></div><div style="position:absolute;left:47.5px;top:1.5px;width:12.5px;height:39px;background:radial-gradient(ellipse 5px 8px at 60% 45%,#a85a28,transparent),linear-gradient(180deg,#3a2a20,#5a3420 50%,#3a2418)"></div></div>
<div class="sm" style="left:27px;top:263.5px;width:70px;text-align:left">Sąd ostateczny (źródło: Wikipedia.pl)</div>
<div class="hd" style="left:127.6px;top:233.7px;font-size:4.2px">Inne konteksty:</div>
<div class="sm" style="left:108.5px;top:244.6px;text-align:left;width:86px;font-size:3.95px;line-height:4.8px;color:#222">FILM: „Armageddon”, reż. Michael Bay<br>FILM: „Dzień zagłady”, reż. Mimi Leder</div>
</div>
<div class="doc" style="left:251px;top:301px;width:193px;height:265px;box-shadow:0 0 0 .6px rgba(60,160,170,.9)">
<div class="hd" style="left:4px;top:6px">Sofokles, „Antygona”</div>
<div class="sm" style="left:147px;top:3px;width:46px;text-align:left"><span style="display:inline-block;width:2.4px;height:2.4px;border:.5px solid #333;border-radius:50%;vertical-align:middle"></span><span style="display:inline-block;width:4px;height:.5px;background:#333;vertical-align:middle"></span><span style="display:inline-block;width:1.8px;height:1.8px;background:#333;border-radius:50%;vertical-align:middle"></span> przeznaczenie, człowiek wobec przeznaczenia</div>
<div class="sheet" style="left:5px;top:13px;width:143px;height:238px">
<div style="position:absolute;left:11px;top:2px;width:5px;height:5px;border-radius:50%;background:#bfe9ec"></div>
<div class="hd" style="left:8px;top:2.3px;font-size:4.2px;line-height:4.6px;white-space:normal;width:127px;text-align:center">5. Człowiek wobec przeznaczenia. Omów zagadnienie na podstawie „Antygony” Sofoklesa. <span style="font-weight:normal;color:#666">W swojej odpowiedzi uwzględnij również wybrany kontekst.</span></div>
<div class="txt" style="left:4px;top:19.5px;width:135px;color:#3a3a3a;font-size:4.15px;line-height:4.1px;letter-spacing:.14px;word-spacing:0;-webkit-text-stroke:.05px #3a3a3a">&nbsp; Zeus przez ostateczny także zawsze ludzie zeus apokalipsa także symbol wiarą powiązane dlatego apokalipsa cierpienie utwór motyw właśnie powiązane człowieka zeus wina nieuniknione życiu objawienie ponieważ postać autor lub literatura moralność zeus romantyzm kondycją motyw romantyzm <i class="hl">wielu</i> <i class="hl">interpretacja</i> <i class="hl">można</i> <i class="hl">który</i> <i class="hl">świata</i> <i class="hl">kierujących</i> <i class="hl">sił</i> <i class="hl">siłę</i> wiarą określoną literatura jako zawsze ludzie. Cierpienie bohater antyk świata biblia polinejkes nieuniknione wybór można decyzja bunt tragedii epoka ponieważ ogień postać przez literatura swoją ostateczny przeznaczenie antyk interpretacja nieuniknione prometeusz decyzja wielu kreon że sił zbawienie choć to wydarzeniami apokalipsa historia choć kreon historia sumienie dlatego która życiu zdefiniować sił choć antyk apokalipsa ma życiu mitologia prometeusz są antyk mitologia ustalone jana ofiara interpretacja ostateczny wielu narrator zbiór ostateczny ludzi odpowiedzialność choć w sumienie kontekst.<br>&nbsp; <b>Przejść bogowie historia historia dlatego które powiązane romantyzm swoją biblia nieuniknione oraz ma epoka ludzką powiązane góry wydarzeniami objawienie które każdy zwłaszcza bogowie jako grecka góry która historia.</b> Które motyw narrator jednak romantyzm świata ścieżkę bohater kondycją musi bogowie ludzką wydarzeniami antyk zeus wina ludzie historia oraz moralność moralność zawsze z przejść ma oraz ofiara pogrzeb ponieważ przejść brata dlatego utwór utwór koniec dla wielu sąd biblia antyk tragedii ludzi można romantyzm kierujących z literatura kreon jako w tragedii że także wybór sumienie zagłada prometeusz kontekst człowieka oraz <i class="hl">epoka</i> <i class="hl">historia</i> są zagłada symbol autor autor brata powiązane przez człowieka zwłaszcza oraz przeciwko apokalipsa fragment wiarą bohater zeus interpretacja każdy przeciwko dlatego los odpowiedzialność musi które z choć życiu tragedii tragedii z jako wielu kondycją konflikt są historia świata symbol życiu mitologia bunt historia ludzi objawienie wolność ogień kara przeciwko ogień grecka racji literatura jednak człowieka musi cierpienie moralność określoną zeus przez motyw przeciwko kierujących nadzieja nieuniknione przeciwko czytelnik bohater zbawienie prometeusz zdefiniować jednak czytelnik sumienie mitologia zdefiniować polinejkes czytelnik nadzieja decyzja cierpienie przejść pogrzeb wina świata wiarą lub.<br>&nbsp; Że można koniec kondycją siłę wielu określoną zdefiniować sił ponieważ historia nieuniknione także postać decyzja określoną są kreon ludzie czytelnik pogrzeb tragedii moralność przejść polinejkes swoją także że oraz pogrzeb dlatego ofiara ma kara ludzką apokalipsa racji swoją zbawienie ogień która racji przeciwko w ludzie nadzieja dlatego brata prometeusz nadzieja ofiara postać epoka zeus sumienie zawsze przez ponieważ kierujących przeciwko która zdefiniować to ustalone objawienie jest motyw nigdy postać które nad zdefiniować los świata władzy dla także człowieka są moralność zbiór wydarzeniami ludzie nad która ostateczny bogowie sumienie odpowiedzialność swoją jest jana odpowiedzialność pogrzeb w określoną kara kara ludzi jednak utwór ofiara wolność cierpienie kreon oraz prometeusz nigdy wydarzeniami jednak która właśnie bohater cierpienie nieuniknione są fragment władzy wolność wybór można która przejść kondycją życiu los kierujących lub zeus sił musi wielu jednak władzy nadzieja bunt oraz władzy lub odpowiedzialność sił cierpienie która w nadzieja ludzie swoją zawsze jednak symbol.<br>&nbsp; Brata cierpienie bunt los racji swoją zeus przeznaczenie konflikt także antyk refleksja przejść określoną autor ma można bogowie wina choć antygona biblia nieuniknione zwłaszcza kontekst kara zdefiniować właśnie ma kontekst. <b>Koniec racji ponieważ wina brata bogowie jest często czytelnik czytelnik jana antyk tragedii są jako ścieżkę wolność choć zwłaszcza racji musi przez odpowiedzialność dlatego ofiara autor które historia nad sumienie ustalone sąd sił ustalone.</b> Powiązane z antyk zeus antygona określoną to przeciwko utwór władzy powiązane bunt bogowie ogień przejść to musi postać z prawo koniec fragment również nigdy jest przez ponieważ określoną ludzi określoną to kondycją brata zbawienie odpowiedzialność to ponieważ fragment oraz jednak który władzy każdy refleksja wina przejść przeznaczenie kreon sumienie ma często ludzką sumienie objawienie polinejkes symbol zbawienie świata bohater jednak bohater literatura czytelnik wina sąd są los bunt nadzieja odpowiedzialność nieuniknione władzy historia właśnie utwór właśnie wielu wiarą że epoka.</div>
</div>
<div class="sm" style="left:150px;top:14px;width:42px;text-align:left;line-height:3.9px">&bull; Co to jest przeznaczenie?<br>&bull; Dlaczego ludzie wierzą w przeznaczenie?<br>&bull; Czym jest predestynacja (kalwinizm)?<br>&bull; Czy koncepcja przeznaczenia może motywować lub demotywować ludzi do działania?</div>
<div class="tag" style="left:157.7px;top:56.5px;width:23px">teza</div>
<div class="tag" style="left:155.6px;top:91.4px;width:31px">argument</div>
<div class="tag" style="left:160.1px;top:129.3px;width:26px">wniosek</div>
<div class="tag" style="left:157.5px;top:158.8px;width:24px">kontekst</div>
<div class="tag" style="left:154.0px;top:215.8px;width:30px">zakończenie</div>
<div class="sm" style="left:152px;top:66px;width:38px">Zdanie nawiązujące po raz drugi do tematu</div>
<div class="sm" style="left:152px;top:101px;width:38px">aksjologia przeznaczenia</div>
<div class="sm" style="left:150px;top:109px;width:42px"><span style="color:#1aa6b8">fatum</span> nieuchronny los</div>
<div class="sm" style="left:152px;top:139px;width:38px">wynika z argumentacji</div>
<div class="sm" style="left:152px;top:168px;width:38px">pełne nawiązanie do kontekstu</div>
<div class="sm" style="left:152px;top:225px;width:38px">wyraźne powtórzenie tezy</div>
<svg style="position:absolute;left:0;top:0" width="193" height="265"><g fill="none" stroke="#3a4a4e" stroke-width=".45"><path d="M149,47 C155,45 159,49 157.5,53 C156,56 152,54 154,51.5 C157,49 162,52 164,56"/><path d="M163,91 C161,87 157,83.5 151,82.5 M151,82.5 l2,-1.3 M151,82.5 l1.6,1.6"/><path d="M162,131 C160,137 156,141 150,141.5 M150,141.5 l2,-1.4 M150,141.5 l1.8,1.4"/><path d="M163,153 C160,149.5 156,149 149,150"/><path d="M163,216 C160,211 155,209 150,209.5 M150,209.5 l2,-1.4 M150,209.5 l1.8,1.4"/></g></svg>
<div class="hd" style="left:4px;top:253px;font-size:3.6px">Inne konteksty:</div>
<div class="sm" style="left:4px;top:257.5px;text-align:left;width:100px">LITERATURA: „Król Edyp” Sofoklesa</div>
<div class="sm" style="left:4px;top:261.5px;text-align:left;width:100px">FILM „Matrix”, reż. bracia Wachowscy</div>
</div>
<svg class="abs" style="left:0;top:0" width="720" height="900">
<g stroke-linejoin="round" stroke="#3a3a3a" stroke-width=".45">
<!-- knight -->
<path d="M142,514 L158.5,514 L158.5,545 L158,572 L154,575 L149,574 L148.5,545 L146,545 L144.5,570 L140,570 Z" fill="#bcbcbc"/>
<path d="M147.5,569 L158.5,569 L158,575.5 L148,575.5 Z" fill="#b0b0b0"/>
<path d="M130,496 L159,496 L158.5,516 L131,516 Z" fill="#c2c2c2"/>
<path d="M131.5,467 L160,467 L160,498 L131.5,498 Z" fill="#c6c6c6"/>
<path d="M124.8,478 C125,469 131,464.5 139,464 L143,465 L143,488 C136,489 129,488 125.5,485 Z" fill="#cacaca"/>
<path d="M146.5,465 L153,464 C161,464.5 166,469 166.8,476 C166.5,482 162,485 156,485 L147,485 Z" fill="#cacaca"/>
<path d="M128,472 h8 M127,476 h9 M127,480 h9 M150,470 h9 M150,474 h11 M150,478 h11 M139,490 l1,8 M143,490 l0,8 M133,505 h24 M133,510 h24" stroke="#858585" stroke-width=".45" fill="none"/>
<path d="M137.5,458.5 h16.5 v6.5 h-16.5 z" fill="#bababa"/>
<path d="M137,451 C137,443 141,439 145.8,439 C150.5,439 154.7,443 154.7,451 C154.7,456 152,459.5 145.8,459.5 C139.5,459.5 137,456 137,451 Z" fill="#c4c4c4"/>
<path d="M138.5,447 h14 v7 h-14 z" fill="#8c8c8c" stroke="none"/>
<path d="M135,515 L141.5,515 L143,569 L140.5,571 L138.5,569 Z" fill="#dcdcdc"/>
<path d="M133,501 L144,501 L143.5,515.6 L133.5,515.6 Z" fill="#8a5a3a"/>
<!-- man A -->
<path d="M61,486 C57,490 55,500 54.5,512 C54,522 53.8,530 54.5,536 L61,537.5 L62,520 L86,520 L89,538 L96,537 C97,530 98.5,523 100.5,518 C100,506 97,493 93,488 C88,484.5 82,483 77,483 C70,483 64,484 61,486 Z" fill="#a8998a"/>
<path d="M65.5,485.5 L85,486 L84.5,518 L61.5,518 Z" fill="#ccc7c2"/>
<path d="M61.5,509.5 L84,509.5 L84,518 L61.5,518 Z" fill="#d9d4cf" stroke="none"/>
<path d="M61,517 L88,517 L88.5,579.5 L81,580 L75.5,536 L73.5,580 L64.8,580 Z" fill="#a29a92"/>
<path d="M57,585 C57,580 63,578.5 68,579 L75,580 L75.5,586 L59,588 Z" fill="#8e8e8e"/>
<path d="M68,587 C69,581 77,579.5 86.5,579 L87,584.5 L71,590.5 Z" fill="#8e8e8e"/>
<ellipse cx="71.8" cy="474.5" rx="6.4" ry="8" fill="#b7b1ac"/>
<path d="M64.2,471 C63.5,464.5 68.5,463.2 72,463.2 C77,463.2 80,465.5 79.6,471 L77.5,468.5 L66.5,469 Z" fill="#3a3330"/>
<path d="M68.5,478.3 q3.3,-1.2 6.6,0" stroke="#333" stroke-width=".9" fill="none"/>
<path d="M67,481.2 L79,481.2 L80.3,487 L66,487 Z" fill="#8a6a52"/>
<path d="M84,514.5 C88,513 94,513.5 96.7,516 C97,520 93,523 86,523.4 L83.5,521 Z" fill="#c2bcb7"/>
<!-- jester B -->
<path d="M99.5,519 L124,519 C128,540 133,560 138,577 L134,579 C128,562 121,546 115.5,533 C114.5,550 113.5,567 113,583 L108,583 C105,560 101,540 99.5,519 Z" fill="#c41c2e"/>
<path d="M96,490 C95,500 97,512 99.5,521 L124,521 C122,512 120,506 118,502 Z" fill="#c41c2e"/>
<ellipse cx="120.5" cy="495.5" rx="14" ry="9.3" fill="#cd2638"/>
<path d="M94,489 C98,486 104,486 107,488 L108,500 C104,502 99,500 96,497 Z" fill="#c41c2e"/>
<path d="M131.5,497.5 C135.5,500 135,503.5 132,505.5 L122,509.5 L120,506.5 Z" fill="#c21a2c"/>
<path d="M117.5,505.5 l4,2 l-1,3 l-4,-1 z" fill="#eee"/>
<path d="M101.5,509.5 l3.5,0.5 l0,5 l-3.5,0 z" fill="#ddd"/>
<path d="M108,582 L113.5,582 C116,588 113,594 105,595.5 C100,596 97,594.5 96.6,589 C99,592 103,591 108,586 Z" fill="#8c1420"/>
<path d="M134,576 L138.5,576 C144,580 150,582 155.7,576 C156,582 150,586.5 142,586 L134,583 Z" fill="#8c1420"/>
<path d="M92.7,481.8 C95,477 98,474 100,473 C100,470 101,468 102,467.8 C105,466 109,465 112.9,464.7 C110,468 109.5,471 110,474 C114,476 118,478 121.4,480.2 C116,480.5 113,479.5 111,478.5 L99,478.5 C97,479.5 95,480.5 92.7,481.8 Z" fill="#c41c2e"/>
<path d="M99,477 L111.3,477 C112,484 110.5,490 106,492.7 C101.5,491.5 98.5,486 99,477 Z" fill="#f5e9e9"/>
<path d="M101.5,486.5 q3,-1.6 6.5,0" stroke="#222" stroke-width="1.1" fill="none"/>
<!-- man D -->
<path d="M172,484 C182,482 195,484 201,491 C204,497 204.5,505 203.7,511 C200,512 197,511 195,509 C195,525 196,543 195,556.4 C188,553 181,551 178,547 C172,551 163,554 156,553 C154,540 154.5,522 157,511 Z" fill="#e03a40"/>
<path d="M168.7,536 L178.8,536 L179,561 L177.5,594 L171,597 L169.5,561 Z M185.8,536 L196,536 L198.2,561 L197.5,594 L190,597 L187,561 Z" fill="#b0b0b0"/>
<path d="M169,557 h10 v6 h-10 z M187,557 h11 v6 h-11 z" fill="#b8b8b8"/>
<path d="M163,486 C170,484 180,484 186,485 C191,486 194,488 195,492 L193.5,538 L167,538 L166,520 L164.5,500 Z" fill="#a86264"/><path d="M163,486 C158,488 153,495 151.6,503 C153,509 160,515 165,518 L168,515 C163,511 158.5,506 158,502 C158.5,498 161,494 164,491 Z" fill="#a86264"/>
<path d="M166.5,514 L193.5,501 L195,507 L167.5,520.5 Z" fill="#e27a7a"/>
<path d="M166.3,519 L192.8,517 L192,527 C185,529.5 174,529.5 167.5,528.4 Z" fill="#a88a50"/>
<path d="M164.8,516 C166,514.5 169,514.5 170.2,516.5 L170,521.5 C168,523 165.5,522 164.8,520 Z" fill="#d0d0d0"/>
<ellipse cx="182.3" cy="475" rx="6.6" ry="8.3" fill="#d6cfcb"/>
<path d="M175.6,473 C175,467 178.5,466.2 182,466.2 C186,466.2 189.5,468 189,474 L187,470.5 L178,470.5 Z" fill="#a09a96"/>
<path d="M178,483 h9 l-1,3 h-7 z" fill="#c8c0bc"/>
</g></svg>

<svg class="abs" style="left:239.0px;top:644.5px;font-family:'Liberation Sans',sans-serif" width="223.0" height="159.0" viewBox="0 0 223.0 159.0"><rect x="0.5" y="0.5" width="222.0" height="158.0" fill="#fff" stroke="#666" stroke-width="1"/><circle cx="10.5" cy="8.5" r="7" fill="#cc7a7a"/><text x="10.5" y="9.8" font-size="3.96" font-weight="bold" text-anchor="middle" fill="#fff" >9</text><circle cx="24" cy="24" r="4" fill="#3a2a20"/><path d="M17,36 C17,29 31,29 31,36 Z" fill="#4a4038"/><rect x="57.0" y="19.0" width="17.5" height="6.2" rx="3.1" fill="#f3c3c3"/><text x="65.8" y="23.4" font-size="3.96" font-weight="bold" text-anchor="middle" fill="#333" >Hiob</text><rect x="41.0" y="26.3" width="51.5" height="6.3" rx="3.1" fill="#f3c3c3"/><text x="66.8" y="30.7" font-size="3.96" font-weight="normal" text-anchor="middle" fill="#333" >Biblia (Stary Testament)</text><text x="140.0" y="16.0" font-size="3.96" font-weight="normal" text-anchor="middle" fill="#222" >wyjaśnienie przyczyn</text><text x="140.0" y="20.2" font-size="3.96" font-weight="normal" text-anchor="middle" fill="#222" >cierpienia</text><text x="140.0" y="24.4" font-size="3.96" font-weight="normal" text-anchor="middle" fill="#222" >leży poza rozumowymi</text><text x="140.0" y="28.6" font-size="3.96" font-weight="normal" text-anchor="middle" fill="#222" >możliwościami człowieka</text><path d="M96,36 L118,27" stroke="#a8dcef" stroke-width="1.6" fill="none" stroke-linecap="round"/><path d="M0,0 L-5,-3.5 L-4,0 L-5,3.5 Z" fill="#a8dcef" transform="translate(120.0 26.0) rotate(-22.0)"/><path d="M110,53 C104,44 96,44 93,50" stroke="#5fd0b5" stroke-width="2.0" fill="none" stroke-linecap="round"/><path d="M0,0 L-5,-3.5 L-4,0 L-5,3.5 Z" fill="#5fd0b5" transform="translate(92.0 52.0) rotate(120.0)"/><ellipse cx="112" cy="67.5" rx="52" ry="11" fill="none" stroke="#a4e7d6" stroke-width="2.4"/><text x="112.0" y="72.5" font-size="7.81" font-weight="bold" text-anchor="middle" fill="#222" >Niezawinione cierpienie</text><text x="78.0" y="85.5" font-size="4.40" font-weight="normal" text-anchor="start" fill="#333" font-style="italic">(nie z grzechu ani winy, ale jest...)</text><rect x="60" y="91.5" width="110" height="5.5" fill="#c6f0da"/><text x="112.0" y="96.0" font-size="4.73" font-weight="bold" text-anchor="middle" fill="#222" >literatura wojenna/holocaust</text><text x="112.0" y="100.5" font-size="4.40" font-weight="normal" text-anchor="middle" fill="#333" font-style="italic">Niewinne ofiary cierpienia</text><text x="112.0" y="105.0" font-size="4.40" font-weight="normal" text-anchor="middle" fill="#333" font-style="italic">z powodu okrucieństwa</text><text x="78.0" y="114.0" font-size="4.4" fill="#333"><tspan font-weight="bold">„Medaliony”</tspan><tspan font-style="italic"> Zofii Nałkowskiej</tspan></text><text x="78.0" y="118.6" font-size="4.4" fill="#333"><tspan font-weight="bold">„Dziennik”</tspan><tspan font-style="italic"> Anny Frank</tspan></text><text x="78.0" y="123.2" font-size="4.4" fill="#333"><tspan font-weight="bold">„Pożegnanie z Marią”</tspan><tspan font-style="italic"> T. Borowskiego</tspan></text><text x="88.0" y="127.8" font-size="4.4" fill="#333"><tspan font-weight="bold"></tspan><tspan font-style="italic">Borowskiego</tspan></text><text x="78.0" y="132.4" font-size="4.4" fill="#333"><tspan font-weight="bold">„Inny świat”</tspan><tspan font-style="italic"> Gustawa Herlinga-</tspan></text><text x="88.0" y="137.0" font-size="4.4" fill="#333"><tspan font-weight="bold"></tspan><tspan font-style="italic">Grudzińskiego</tspan></text></svg>
<svg class="abs" style="left:108.5px;top:678.5px;font-family:'Liberation Sans',sans-serif" width="224.0" height="157.0" viewBox="0 0 224.0 157.0"><rect x="0.5" y="0.5" width="223.0" height="156.0" fill="#fff" stroke="#3a3a3a" stroke-width="1"/><circle cx="11.8" cy="11.3" r="6.8" fill="#cc7a7a"/><text x="11.8" y="12.6" font-size="3.96" font-weight="bold" text-anchor="middle" fill="#fff" >16</text><g transform="translate(39.6 17.5) scale(0.95)"><path d="M-4,6 L-4.5,14 M3,6 L3.5,14" stroke="#f0a0a8" stroke-width="1.3"/><ellipse cx="0" cy="0" rx="10" ry="7" fill="#f6b1a6"/><path d="M-7,-2 q2,-3 4,0 q2,-3 4,0 q2,-3 4,0 M-6,2 q3,-2 5,0 q3,-2 5,0" stroke="#e8938a" stroke-width=".8" fill="none"/></g><circle cx="37" cy="15.5" r="3" fill="none" stroke="#333" stroke-width="1"/><path d="M35,18 L32,22" stroke="#333" stroke-width="1.2"/><rect x="52.8" y="15.2" width="23.5" height="7.2" rx="3.6" fill="#a9dcf7"/><text x="64.5" y="20.2" font-size="4.18" font-weight="bold" text-anchor="middle" fill="#333" >starzec</text><text x="10.0" y="33.0" font-size="3.52" font-weight="normal" text-anchor="start" fill="#222" >szkiełko</text><text x="10.0" y="36.5" font-size="3.52" font-weight="normal" text-anchor="start" fill="#222" >i oko</text><text x="11.5" y="53.5" font-size="3.52" font-weight="normal" text-anchor="start" fill="#222" >czucie</text><text x="11.5" y="57.0" font-size="3.52" font-weight="normal" text-anchor="start" fill="#222" >i wiara</text><g transform="translate(41.3 58.0) scale(1.25)"><path d="M0,5 C-9,-1 -9,-8 -4,-8.5 C-2,-8.7 -0.5,-7.5 0,-6 C0.5,-7.5 2,-8.7 4,-8.5 C9,-8 9,-1 0,5 Z" fill="#f58ea6"/><path d="M-5,-5 C-4,-7 -2,-7 -1.5,-5.5" stroke="#fbc5d2" stroke-width="1.2" fill="none" stroke-linecap="round"/></g><rect x="51.0" y="44.8" width="24.5" height="7.2" rx="3.6" fill="#a9dcf7"/><text x="63.2" y="49.8" font-size="4.18" font-weight="bold" text-anchor="middle" fill="#333" >Karusia</text><rect x="51.0" y="53.8" width="24.5" height="7.2" rx="3.6" fill="#a9dcf7"/><text x="63.2" y="58.7" font-size="3.96" font-weight="normal" text-anchor="middle" fill="#333" >tłum</text><rect x="51.0" y="62.8" width="24.5" height="7.2" rx="3.6" fill="#a9dcf7"/><text x="63.2" y="67.7" font-size="3.96" font-weight="normal" text-anchor="middle" fill="#333" >narrator</text><path d="M92,50 L82,58" stroke="#a8dcef" stroke-width="1.2" fill="none" stroke-linecap="round"/><path d="M0,0 L-5,-3.5 L-4,0 L-5,3.5 Z" fill="#a8dcef" transform="translate(81.0 59.0) rotate(140.0)"/><path d="M92,27 L78,22" stroke="#a8dcef" stroke-width="1.2" fill="none" stroke-linecap="round"/><path d="M0,0 L-5,-3.5 L-4,0 L-5,3.5 Z" fill="#a8dcef" transform="translate(77.0 21.5) rotate(200.0)"/><path d="M96,38 C95,30 100,24 106,25 C108,19 114,18 116,24 C121,26 124,32 122,38 Z" fill="#a03a38"/><path d="M118,20 C122,16 128,17 128,23 C131,27 130,33 126,36 L118,34 Z" fill="#f4f4f4" stroke="#333" stroke-width=".5"/><rect x="91.7" y="42.3" width="45.0" height="7.3" rx="3.6" fill="#f3c3c3"/><text x="114.2" y="47.3" font-size="4.18" font-weight="bold" text-anchor="middle" fill="#333" >„Romantyczność”</text><text x="114.0" y="56.5" font-size="4.40" font-weight="normal" text-anchor="middle" fill="#222" >Adam Mickiewicz</text><path d="M114,81 L114,64" stroke="#5fd0b5" stroke-width="2.2" fill="none" stroke-linecap="round"/><path d="M0,0 L-5,-3.5 L-4,0 L-5,3.5 Z" fill="#5fd0b5" transform="translate(114.0 61.0) rotate(-90.0)"/><path d="M152,30 C156,22 168,20 176,24 C184,22 192,28 190,36 C194,44 188,54 178,56 C170,62 158,60 154,52 C146,48 146,36 152,30 Z" fill="#d2e8f3" opacity=".95"/><ellipse cx="160" cy="44" rx="9" ry="8" fill="#bcdcec" opacity=".7"/><ellipse cx="176" cy="34" rx="8" ry="6" fill="#e2f0f7" opacity=".8"/><text x="189.0" y="38.5" font-size="6.16" font-weight="normal" text-anchor="middle" fill="#333" font-style="italic">„Miej serce i patrzaj</text><text x="188.0" y="46.0" font-size="6.16" font-weight="normal" text-anchor="middle" fill="#333" font-style="italic">w serce”</text><g transform="translate(188.0 60.0) scale(1.00)"><path d="M0,5 C-9,-1 -9,-8 -4,-8.5 C-2,-8.7 -0.5,-7.5 0,-6 C0.5,-7.5 2,-8.7 4,-8.5 C9,-8 9,-1 0,5 Z" fill="#f98fa5"/><path d="M-5,-5 C-4,-7 -2,-7 -1.5,-5.5" stroke="#fbc5d2" stroke-width="1.2" fill="none" stroke-linecap="round"/></g><circle cx="185" cy="55" r="2.2" fill="#fff"/><circle cx="191" cy="55" r="2.2" fill="#fff"/><circle cx="185.3" cy="55.3" r="1.1" fill="#222"/><circle cx="191.3" cy="55.3" r="1.1" fill="#222"/><ellipse cx="114" cy="93" rx="40" ry="10" fill="none" stroke="#a4e7d6" stroke-width="2.4"/><ellipse cx="112" cy="92" rx="38" ry="10.5" fill="none" stroke="#c4f0e4" stroke-width="1"/><text x="114.0" y="88.0" font-size="5.06" font-weight="bold" text-anchor="middle" fill="#222" >świat ducha</text><text x="114.0" y="94.5" font-size="4.84" font-weight="bold" text-anchor="middle" fill="#222" >vs</text><text x="114.0" y="101.0" font-size="5.06" font-weight="bold" text-anchor="middle" fill="#222" >świat rozumu</text><path d="M80,87 C75,80 65,79 58,87" stroke="#5fd0b5" stroke-width="2.2" fill="none" stroke-linecap="round"/><path d="M0,0 L-5,-3.5 L-4,0 L-5,3.5 Z" fill="#5fd0b5" transform="translate(57.0 89.0) rotate(130.0)"/><path d="M150,88 C155,80 165,78 172,82" stroke="#5fd0b5" stroke-width="2.2" fill="none" stroke-linecap="round"/><path d="M0,0 L-5,-3.5 L-4,0 L-5,3.5 Z" fill="#5fd0b5" transform="translate(174.0 84.0) rotate(30.0)"/><rect x="36.0" y="90.5" width="25.0" height="6.5" rx="3.2" fill="#a8efc2"/><text x="48.5" y="95.0" font-size="3.96" font-weight="bold" text-anchor="middle" fill="#333" >„Król Olch”</text><text x="48.5" y="106.0" font-size="4.18" font-weight="normal" text-anchor="middle" fill="#222" >Johann Wolfgang Goethe</text><path d="M42,112 c3,-2 6,-1 8,1 c3,-1 6,-1 8,1 l4,-2 M44,116 c4,3 10,3 14,0 M46,118 l-2,5 M54,118 l3,5 M50,113 l2,-4" stroke="#333" stroke-width=".7" fill="none"/><text x="53.0" y="134.0" font-size="5.28" font-weight="bold" text-anchor="middle" fill="#222" >Sturm und Drang</text><text x="31.0" y="142.5" font-size="3.96" font-weight="normal" text-anchor="start" fill="#222" >•  irracjonalizm</text><text x="31.0" y="148.0" font-size="3.96" font-weight="normal" text-anchor="start" fill="#222" >•  fascynacja naturą</text><rect x="167.5" y="86.5" width="44.5" height="8.0" rx="4.0" fill="#f4d2cd"/><text x="189.8" y="91.9" font-size="4.18" font-weight="bold" text-anchor="middle" fill="#333" >Idee historyczne</text><text x="187.0" y="100.0" font-size="4.18" font-weight="bold" text-anchor="middle" fill="#222" >konflikt światopoglądowy</text><text x="187.0" y="106.0" font-size="3.96" font-weight="normal" text-anchor="middle" fill="#222" >klasycy vs romantycy</text><g transform="translate(163.0 128.0) scale(0.75)"><path d="M-4,6 L-4.5,14 M3,6 L3.5,14" stroke="#f0a0a8" stroke-width="1.3"/><ellipse cx="0" cy="0" rx="10" ry="7" fill="#f7a9b8"/><path d="M-7,-2 q2,-3 4,0 q2,-3 4,0 q2,-3 4,0 M-6,2 q3,-2 5,0 q3,-2 5,0" stroke="#f28aa0" stroke-width=".8" fill="none"/></g><circle cx="174" cy="122" r="2.6" fill="#f8d860"/><path d="M173,125 h2" stroke="#aaa" stroke-width="1"/><path d="M182,122 l10,8 M192,122 l-10,8" stroke="#c9a040" stroke-width="1"/><path d="M185,129 l-2,2 M189,129 l2,2" stroke="#3050a0" stroke-width="1.2"/><g transform="translate(206.0 132.0) scale(1.25)"><path d="M0,5 C-9,-1 -9,-8 -4,-8.5 C-2,-8.7 -0.5,-7.5 0,-6 C0.5,-7.5 2,-8.7 4,-8.5 C9,-8 9,-1 0,5 Z" fill="#f58ea6"/><path d="M-5,-5 C-4,-7 -2,-7 -1.5,-5.5" stroke="#fbc5d2" stroke-width="1.2" fill="none" stroke-linecap="round"/></g><text x="120.0" y="153.5" font-size="2.42" font-weight="normal" text-anchor="middle" fill="#222" >oprac. M. Szymańska &amp; E. Koźlarz</text></svg>
<svg class="abs" style="left:378.5px;top:673.5px;font-family:'Liberation Sans',sans-serif" width="232.6" height="162.5" viewBox="0 0 232.6 162.5"><rect x="0.5" y="0.5" width="231.6" height="161.5" fill="#fff" stroke="#3a3a3a" stroke-width="1"/><circle cx="12.1" cy="13.1" r="6.5" fill="#cc7a7a"/><text x="12.1" y="14.4" font-size="3.96" font-weight="bold" text-anchor="middle" fill="#fff" >5</text><text x="43.3" y="15.0" font-size="3.85" font-weight="normal" text-anchor="middle" fill="#222" >słuszna kara:</text><text x="43.3" y="20.0" font-size="3.85" font-weight="normal" text-anchor="middle" fill="#222" >wieczne wtaczanie</text><text x="43.3" y="25.0" font-size="3.85" font-weight="normal" text-anchor="middle" fill="#222" >głazu na górę</text><circle cx="80" cy="16" r="3" fill="#d89060"/><circle cx="86" cy="16.5" r="3" fill="#e0a070"/><path d="M75,27 C75,20 84,20 84,27 Z" fill="#f0b040"/><path d="M82,27 C82,20 91,20 91,27 Z" fill="#60a050"/><text x="83.3" y="32.0" font-size="3.74" font-weight="normal" text-anchor="middle" fill="#222" >pielgrzymka na</text><text x="83.3" y="37.0" font-size="3.74" font-weight="normal" text-anchor="middle" fill="#222" >temat Zosia</text><path d="M72,31 L60,26" stroke="#a8dcef" stroke-width="1.4" fill="none" stroke-linecap="round"/><path d="M0,0 L-5,-3.5 L-4,0 L-5,3.5 Z" fill="#a8dcef" transform="translate(58.0 25.5) rotate(200.0)"/><path d="M120,30 L106,30" stroke="#a8dcef" stroke-width="1.4" fill="none" stroke-linecap="round"/><path d="M0,0 L-5,-3.5 L-4,0 L-5,3.5 Z" fill="#a8dcef" transform="translate(104.0 30.0) rotate(180.0)"/><rect x="124.5" y="12.5" width="20.0" height="6.5" rx="3.2" fill="#f0a8a8"/><text x="134.5" y="17.0" font-size="3.96" font-weight="bold" text-anchor="middle" fill="#333" >Syzyf</text><text x="136.0" y="29.0" font-size="4.18" font-weight="bold" text-anchor="middle" fill="#222" >„Mit o Syzyfie”</text><text x="136.0" y="34.0" font-size="3.96" font-weight="normal" text-anchor="middle" fill="#222" >Jan Parandowski</text><circle cx="38" cy="41" r="6" fill="#555"/><path d="M33,46 L52,36 L52,58 L33,58 Z" fill="#555"/><path d="M39,46 l3,8" stroke="#fff" stroke-width=".8"/><text x="4" y="81" font-size="2.6" fill="#3a4a7a" transform="rotate(90 4 81)" text-anchor="middle">oprac. M. Szymańska &amp; E. Koźlarz</text><path d="M80,68 C78,60 70,60 66,66" stroke="#5fd0b5" stroke-width="2.0" fill="none" stroke-linecap="round"/><path d="M0,0 L-5,-3.5 L-4,0 L-5,3.5 Z" fill="#5fd0b5" transform="translate(65.0 68.0) rotate(120.0)"/><ellipse cx="112" cy="92" rx="40" ry="9" fill="none" stroke="#a4e7d6" stroke-width="2.2"/><rect x="18.3" y="75.5" width="48.7" height="6.5" rx="3.2" fill="#a8efc2"/><text x="42.7" y="80.4" font-size="5.06" font-weight="bold" text-anchor="middle" fill="#333" >„Świtezianka”</text><text x="42.6" y="89.0" font-size="4.40" font-weight="normal" text-anchor="middle" fill="#222" >Adam Mickiewicz</text><text x="42.6" y="95.0" font-size="4.40" font-weight="normal" text-anchor="middle" fill="#222" >ballada romantyczna</text><text x="41.3" y="104.0" font-size="3.85" font-weight="normal" text-anchor="middle" fill="#222" >strzelec: złamanie przysięgi</text><text x="41.3" y="109.0" font-size="3.85" font-weight="normal" text-anchor="middle" fill="#222" >wierności</text><path d="M41.3,113 L41.3,119" stroke="#a8dcef" stroke-width="1.3" fill="none" stroke-linecap="round"/><path d="M0,0 L-5,-3.5 L-4,0 L-5,3.5 Z" fill="#a8dcef" transform="translate(41.3 121.0) rotate(90.0)"/><text x="41.3" y="126.0" font-size="3.74" font-weight="normal" text-anchor="middle" fill="#222" >słuszna kara:</text><text x="41.3" y="131.0" font-size="3.74" font-weight="normal" text-anchor="middle" fill="#222" >śmierć i uwięzienie duszy</text><circle cx="7" cy="127" r="2.5" fill="#6a5040"/><path d="M4,131 h6 v10 h-6 z" fill="#c8a070"/><path d="M4,141 h6 v6 h-6 z" fill="#3a5a90"/><path d="M16,140 C25,134 40,136 50,134 C58,136 64,138 66,142 L66,146 L16,146 Z" fill="#cfe4ee" opacity=".9"/><path d="M18,138 v4 M24,137 v5 M30,136 v6 M36,136 v5 M44,135 v6 M52,136 v5 M60,137 v5" stroke="#b8d0da" stroke-width="1"/></svg>
<svg class="abs" style="left:0;top:0;pointer-events:none" width="720" height="900"><path d="M124.7,258.3 C126,255.5 128,255.6 128.2,255.8 C140,257 150,260 160,265 C172,271 182,279 190,286 C192,281 195,276 197,274.3 C199,272.6 202,272.8 203.2,277 C203,283 199,290 198.3,291.7 C197.5,297 197,302 196.3,305.5 C196,308 195,309.5 194.2,309 C188,308 184,306 181.7,305.5 C175,303.5 170,302 166.4,300.7 C163,299.5 161.5,298 162.9,295.5 C164,293.5 167,292.5 174.7,291.7 C168,286 163,283 156.7,279.2 C150,275.5 145,273 140,270.8 C135,269 131,268.5 128.9,267.8 C125,267 123,265 123.6,262.5 C123.8,260.5 124,259 124.7,258.3 Z" fill="#e01a22" stroke="#111" stroke-width="1.3" stroke-linejoin="round"/><path d="M422.5,542.5 C430,544 437,545.5 443.3,546.7 C447,547.5 452,548.5 453.5,550.5 C456,553 455.5,557 452,559.5 C449,560.5 446,560.3 443.3,560 C449,564 455,567.5 460,570 C467,573 474,575.5 480,576.7 C486,578 490,578.5 493.3,580 C497,582 497,587 495.8,589 C494.5,591.5 493,592.8 491.7,592.5 C485,591 479,590 473.3,588.3 C466,586 458,582 451.7,578.3 C444,574 436,569 430,565 C428.5,564 427.5,563.5 426.7,563.3 C425,567 423,573 421.7,576.7 C420.5,579 418,580 415.8,579.2 C414,578 413.8,576 414.7,573.3 C415.5,570 416.5,566.5 417.5,563.3 C418.5,558 419.5,553 420,548.3 C420.5,545 421.5,543 422.5,542.5 Z" fill="#e01a22" stroke="#111" stroke-width="1.3" stroke-linejoin="round"/><path d="M145.4,648.3 C146.5,647.5 148,647.8 148.9,648.3 C156,650 163,652.5 169.7,655.3 C177,658.5 184,662.5 190.6,667.8 C196,672 201,677 207.2,683 C209,679 211,675.5 212.8,673.3 C214.5,671 216.5,670 218.3,670.6 C220.5,671.5 221,673 220.4,674.7 C219,679 217,684 215.6,688.6 C214.5,693 213.5,697 212.8,701.1 C212.2,704 211.5,705.8 210.7,706 C206,704.5 201,702.5 197.5,701.1 C192,699 187,697.5 182.2,695.6 C180,694.5 178.5,693 178.75,691.4 C179,689.5 180,688.3 180.8,687.9 C184,687.3 187,687.3 190.6,687.2 C185,681 179.5,677 173.9,673.3 C168,669.5 162.5,666.5 157.2,664.3 C153,662.8 149.5,662 146.1,661.5 C143.5,661 141.5,659 141.9,655.3 C142.3,652 143.5,649.5 145.4,648.3 Z" fill="#e01a22" stroke="#111" stroke-width="1.3" stroke-linejoin="round"/></svg>
<svg class="abs" style="left:0;top:0" width="720" height="900"><defs><mask id="gm" maskUnits="userSpaceOnUse" x="0" y="0" width="720" height="900"><rect x="0" y="0" width="720" height="900" fill="#fff"/><path d="M510.5,724.6 A123.8,123.8 0 0 1 523.0,714.3" stroke="#000" stroke-width="2.2" fill="none" stroke-linecap="round"/><path d="M511.6,713.8 A131.2,131.2 0 0 1 525.9,703.5" stroke="#000" stroke-width="2.3" fill="none" stroke-linecap="round"/><path d="M525.6,702.6 A132.1,132.1 0 0 1 544.8,692.9" stroke="#000" stroke-width="1.9" fill="none" stroke-linecap="round"/><path d="M479.7,764.1 A126.1,126.1 0 0 1 489.6,745.8" stroke="#000" stroke-width="1.3" fill="none" stroke-linecap="round"/><path d="M574.9,690.1 A126.5,126.5 0 0 1 598.5,688.6" stroke="#000" stroke-width="2.6" fill="none" stroke-linecap="round"/><path d="M482.3,754.9 A127.7,127.7 0 0 1 485.8,748.8" stroke="#000" stroke-width="1.3" fill="none" stroke-linecap="round"/><path d="M480.3,748.3 A132.7,132.7 0 0 1 486.4,738.7" stroke="#000" stroke-width="2.2" fill="none" stroke-linecap="round"/><path d="M506.5,722.8 A127.8,127.8 0 0 1 523.4,709.1" stroke="#000" stroke-width="2.6" fill="none" stroke-linecap="round"/><path d="M512.4,716.6 A128.4,128.4 0 0 1 527.5,705.8" stroke="#000" stroke-width="1.8" fill="none" stroke-linecap="round"/><path d="M577.3,691.7 A124.6,124.6 0 0 1 601.1,690.6" stroke="#000" stroke-width="2.8" fill="none" stroke-linecap="round"/><path d="M492.7,734.6 A130.1,130.1 0 0 1 499.9,726.2" stroke="#000" stroke-width="1.4" fill="none" stroke-linecap="round"/><path d="M546.4,700.3 A124.5,124.5 0 0 1 559.1,695.8" stroke="#000" stroke-width="2.1" fill="none" stroke-linecap="round"/></mask></defs><g mask="url(#gm)"><path d="M728.8,815.0 L729.2,817.3 L727.0,819.6 L727.9,822.0 L728.9,824.4 L728.1,826.6 L728.5,829.0 L726.4,831.1 L727.0,833.5 L726.2,835.8 L726.6,838.2 L726.3,840.5 L724.6,842.5 L724.7,844.9 L724.4,847.3 L725.4,849.9 L724.5,852.1 L722.6,854.0 L723.4,856.7 L721.3,858.5 L721.6,861.1 L719.8,862.9 L718.7,865.0 L719.8,868.0 L717.5,869.5 L716.6,871.7 L717.3,874.6 L716.0,876.7 L713.7,878.1 L714.0,881.0 L711.9,882.5 L711.0,884.7 L708.8,886.1 L709.0,889.0 L707.2,890.7 L706.3,893.0 L704.8,894.8 L702.2,895.8 L700.9,897.7 L699.0,899.2 L697.4,900.9 L695.7,902.6 L694.6,904.7 L693.5,906.9 L690.8,907.5 L690.3,910.3 L688.1,911.4 L686.3,912.9 L685.4,915.4 L683.1,916.4 L681.1,917.6 L679.6,919.5 L678.1,921.4 L675.4,921.6 L674.8,924.9 L671.6,924.4 L670.7,927.3 L669.0,928.9 L666.0,928.6 L665.0,931.5 L662.5,931.9 L660.8,933.7 L658.1,933.7 L656.1,935.0 L654.2,936.5 L653.0,939.3 L650.1,938.8 L648.5,941.1 L646.5,942.5 L644.3,943.5 L641.6,943.1 L639.4,944.0 L637.3,945.2 L635.2,946.6 L632.5,945.8 L630.6,948.0 L628.3,948.7 L626.0,949.4 L623.3,948.0 L621.4,950.6 L618.6,949.0 L616.4,949.9 L614.1,950.8 L611.8,951.8 L609.3,950.6 L607.0,952.1 L604.5,951.3 L602.1,950.7 L599.7,950.7 L597.4,950.3 L595.0,949.9 L592.6,949.9 L590.3,951.0 L587.8,951.4 L585.6,949.1 L583.3,948.5 L580.8,950.4 L578.6,948.9 L576.3,948.2 L574.0,947.3 L571.6,947.7 L569.2,947.7 L567.1,946.3 L564.8,945.6 L562.8,944.2 L560.0,945.5 L558.3,942.8 L555.8,943.2 L553.3,943.3 L551.6,940.9 L548.9,941.5 L546.6,941.2 L544.6,939.7 L542.3,939.2 L540.8,936.8 L538.2,936.9 L535.8,936.5 L532.3,938.1 L530.1,937.0 L528.2,935.4 L526.1,934.3 L524.9,931.7 L522.6,930.9 L519.6,931.1 L514.8,934.0 L510.8,935.3 L510.9,930.8 L512.6,924.3 L512.6,920.5 L509.3,920.8 L505.5,921.6 L501.1,923.0 L497.2,923.6 L499.5,917.4 L501.9,911.4 L501.4,908.6 L500.7,906.1 L498.1,905.3 L495.0,905.0 L493.1,903.6 L492.6,900.9 L490.4,899.7 L489.0,897.8 L489.5,894.5 L490.1,891.2 L487.3,890.4 L484.0,889.9 L479.6,890.0 L479.6,887.1 L478.3,885.1 L475.6,883.9 L472.2,883.1 L474.3,879.2 L474.5,876.4 L472.3,874.8 L468.0,874.2 L469.4,870.9 L469.3,868.3 L466.5,866.9 L459.8,866.9 L464.1,862.7 L467.0,859.1 L468.5,856.1 L468.2,853.8 L467.0,851.7 L463.2,850.3 L460.1,848.6 L457.7,846.7 L457.1,844.3 L455.5,842.1 L456.1,839.5 L457.3,836.8 L458.0,834.3 L460.1,831.6 L461.3,829.1 L460.4,826.8 L460.5,824.4 L457.7,822.2 L455.9,819.9 L455.7,817.4 L454.4,815.0 L452.5,812.5 L451.8,810.0 L452.1,807.5 L448.0,804.7 L451.0,802.4 L452.7,800.0 L453.5,797.6 L455.8,795.4 L455.1,792.8 L454.5,790.2 L455.6,787.9 L462.0,786.7 L465.7,785.1 L467.5,783.2 L467.9,780.9 L466.9,778.3 L464.4,775.1 L463.3,772.2 L464.2,769.9 L463.7,767.2 L465.5,765.3 L466.2,763.0 L467.6,760.9 L468.8,758.8 L469.8,756.6 L470.0,754.0 L470.9,751.8 L470.6,748.9 L473.9,747.9 L476.1,746.4 L477.3,744.3 L478.4,742.2 L477.6,738.7 L480.4,737.7 L481.7,735.6 L484.0,734.4 L485.9,732.8 L488.6,731.9 L488.1,728.4 L488.0,725.3 L485.3,719.7 L482.3,713.5 L486.6,714.0 L492.1,715.7 L497.3,717.3 L500.3,716.9 L501.7,715.0 L503.7,713.6 L505.0,711.5 L504.8,707.5 L505.5,704.5 L508.6,704.4 L512.3,705.2 L515.0,704.8 L517.3,704.1 L518.8,702.0 L520.8,700.8 L523.4,700.4 L525.8,699.8 L527.2,697.6 L530.4,698.4 L532.4,697.2 L534.3,695.9 L536.8,695.7 L539.8,696.6 L541.3,694.3 L541.8,689.8 L544.0,688.8 L546.9,689.6 L549.6,690.4 L551.8,689.5 L553.5,687.3 L556.2,688.0 L558.0,686.1 L560.3,685.6 L562.8,685.8 L565.1,685.6 L566.6,681.4 L568.8,680.0 L570.9,678.4 L573.4,678.5 L575.3,675.0 L578.0,676.4 L580.8,680.1 L583.4,682.1 L585.7,682.7 L588.0,681.2 L590.3,681.4 L592.7,681.6 L595.0,680.2 L597.4,680.0 L599.7,679.8 L602.4,673.9 L604.9,672.7 L607.7,670.0 L610.2,670.7 L612.2,674.5 L614.4,676.7 L616.8,677.4 L619.6,675.5 L621.9,676.5 L624.2,677.4 L626.6,678.0 L628.6,680.1 L630.3,683.3 L632.6,683.8 L634.5,685.9 L637.2,685.1 L639.1,686.9 L641.5,687.2 L643.6,688.5 L645.7,689.5 L648.1,689.9 L650.2,691.1 L652.2,692.3 L654.7,692.5 L656.7,694.0 L658.1,696.3 L660.4,697.0 L662.7,697.8 L665.2,698.1 L667.2,699.4 L668.7,701.4 L670.0,703.8 L673.0,703.7 L674.4,705.7 L676.5,706.9 L678.6,708.1 L680.3,709.7 L681.9,711.4 L684.4,712.1 L685.4,714.6 L687.2,716.2 L689.7,717.0 L690.3,719.7 L692.2,721.1 L694.8,721.9 L695.1,724.8 L698.2,725.3 L699.5,727.3 L700.6,729.5 L701.9,731.5 L704.3,732.6 L706.1,734.3 L706.0,737.3 L708.1,738.7 L709.6,740.6 L710.8,742.6 L711.7,744.9 L712.6,747.1 L714.7,748.7 L716.3,750.5 L715.8,753.5 L717.2,755.4 L719.4,757.0 L720.3,759.2 L720.9,761.6 L720.3,764.4 L722.6,766.0 L723.9,768.1 L724.6,770.4 L724.6,772.9 L723.7,775.7 L726.0,777.4 L725.0,780.2 L726.5,782.2 L727.6,784.4 L727.3,786.9 L726.3,789.5 L726.9,791.7 L728.6,793.8 L727.0,796.5 L728.2,798.6 L727.9,801.0 L727.4,803.4 L728.6,805.7 L727.2,808.1 L727.4,810.4 L728.0,812.7 Z" fill="#c5c4c0"/><path d="M465.8,862.3 A137.6,137.6 0 0 1 457.4,813.2" stroke="#c5c4c0" stroke-width="1.2" fill="none" stroke-linecap="round"/><path d="M560.3,684.3 A135.2,135.2 0 0 1 603.0,680.0" stroke="#c5c4c0" stroke-width="1.2" fill="none" stroke-linecap="round"/><path d="M494.6,916.4 A142.7,142.7 0 0 1 473.2,889.4" stroke="#c5c4c0" stroke-width="3.8" fill="none" stroke-linecap="round"/><path d="M499.0,714.6 A138.9,138.9 0 0 1 520.1,698.1" stroke="#c5c4c0" stroke-width="2.1" fill="none" stroke-linecap="round"/><path d="M455.9,832.7 A140.3,140.3 0 0 1 454.8,817.3" stroke="#c5c4c0" stroke-width="3.5" fill="none" stroke-linecap="round"/><path d="M542.9,685.3 A139.8,139.8 0 0 1 561.6,679.3" stroke="#c5c4c0" stroke-width="1.5" fill="none" stroke-linecap="round"/><path d="M533.9,685.2 A143.4,143.4 0 0 1 571.6,673.5" stroke="#c5c4c0" stroke-width="3.4" fill="none" stroke-linecap="round"/><path d="M498.3,920.7 A143.2,143.2 0 0 1 477.0,896.3" stroke="#c5c4c0" stroke-width="2.4" fill="none" stroke-linecap="round"/><path d="M456.5,784.3 A141.9,141.9 0 0 1 469.9,747.9" stroke="#c5c4c0" stroke-width="3.8" fill="none" stroke-linecap="round"/><path d="M474.9,742.3 A140.4,140.4 0 0 1 521.7,695.3" stroke="#c5c4c0" stroke-width="1.3" fill="none" stroke-linecap="round"/><path d="M582.5,680.1 A135.5,135.5 0 0 1 618.4,681.6" stroke="#c5c4c0" stroke-width="3.9" fill="none" stroke-linecap="round"/><path d="M533.4,940.0 A139.3,139.3 0 0 1 496.6,913.6" stroke="#c5c4c0" stroke-width="3.6" fill="none" stroke-linecap="round"/><path d="M458.0,803.9 A137.5,137.5 0 0 1 462.4,778.6" stroke="#c5c4c0" stroke-width="1.6" fill="none" stroke-linecap="round"/><path d="M481.6,730.0 A141.8,141.8 0 0 1 505.2,705.3" stroke="#c5c4c0" stroke-width="1.7" fill="none" stroke-linecap="round"/><path d="M451.4,822.9 A143.8,143.8 0 0 1 452.7,794.2" stroke="#c5c4c0" stroke-width="3.5" fill="none" stroke-linecap="round"/><path d="M598.6,676.4 A138.6,138.6 0 0 1 644.8,685.7" stroke="#c5c4c0" stroke-width="1.4" fill="none" stroke-linecap="round"/><path d="M590.3,679.7 A135.3,135.3 0 0 1 629.6,684.2" stroke="#c5c4c0" stroke-width="1.5" fill="none" stroke-linecap="round"/><path d="M505.4,926.6 A143.1,143.1 0 0 1 470.4,885.4" stroke="#c5c4c0" stroke-width="1.6" fill="none" stroke-linecap="round"/><path d="M574.0,675.4 A141.1,141.1 0 0 1 606.2,674.3" stroke="#c5c4c0" stroke-width="3.6" fill="none" stroke-linecap="round"/><path d="M503.1,711.5 A138.4,138.4 0 0 1 552.2,683.4" stroke="#c5c4c0" stroke-width="1.0" fill="none" stroke-linecap="round"/><path d="M473.5,752.5 A136.7,136.7 0 0 1 500.3,716.5" stroke="#c5c4c0" stroke-width="2.2" fill="none" stroke-linecap="round"/><path d="M459.2,838.3 A137.8,137.8 0 0 1 457.4,822.5" stroke="#c5c4c0" stroke-width="2.1" fill="none" stroke-linecap="round"/><path d="M465.2,766.6 A138.6,138.6 0 0 1 491.9,722.4" stroke="#c5c4c0" stroke-width="3.9" fill="none" stroke-linecap="round"/><path d="M582.6,674.3 A141.2,141.2 0 0 1 646.2,683.4" stroke="#c5c4c0" stroke-width="3.0" fill="none" stroke-linecap="round"/><path d="M477.7,741.8 A138.3,138.3 0 0 1 516.8,701.0" stroke="#c5c4c0" stroke-width="2.8" fill="none" stroke-linecap="round"/><path d="M524.4,697.0 A137.6,137.6 0 0 1 563.1,681.2" stroke="#c5c4c0" stroke-width="1.2" fill="none" stroke-linecap="round"/><path d="M511.4,927.6 A140.2,140.2 0 0 1 486.9,904.4" stroke="#c5c4c0" stroke-width="3.3" fill="none" stroke-linecap="round"/><path d="M536.1,684.3 A143.4,143.4 0 0 1 566.4,674.5" stroke="#c5c4c0" stroke-width="1.8" fill="none" stroke-linecap="round"/><path d="M537.5,685.4 A141.8,141.8 0 0 1 555.1,679.0" stroke="#c5c4c0" stroke-width="3.0" fill="none" stroke-linecap="round"/><path d="M647.5,683.9 A141.2,141.2 0 0 1 699.2,719.7" stroke="#c5c4c0" stroke-width="3.5" fill="none" stroke-linecap="round"/><path d="M548.9,686.1 A136.9,136.9 0 0 1 594.5,678.1" stroke="#c5c4c0" stroke-width="2.6" fill="none" stroke-linecap="round"/><path d="M620.6,673.5 A143.8,143.8 0 0 1 647.8,681.3" stroke="#c5c4c0" stroke-width="2.6" fill="none" stroke-linecap="round"/><path d="M457.0,803.5 A138.5,138.5 0 0 1 458.9,789.0" stroke="#c5c4c0" stroke-width="1.5" fill="none" stroke-linecap="round"/><path d="M511.0,699.0 A143.2,143.2 0 0 1 569.8,674.0" stroke="#c5c4c0" stroke-width="2.8" fill="none" stroke-linecap="round"/><path d="M454.1,806.5 A141.2,141.2 0 0 1 456.8,786.0" stroke="#c5c4c0" stroke-width="2.7" fill="none" stroke-linecap="round"/><path d="M536.6,684.5 A143.0,143.0 0 0 1 570.5,674.1" stroke="#c5c4c0" stroke-width="1.6" fill="none" stroke-linecap="round"/><path d="M457.4,844.1 A140.6,140.6 0 0 1 454.4,815.1" stroke="#c5c4c0" stroke-width="3.7" fill="none" stroke-linecap="round"/><path d="M483.5,902.7 A141.9,141.9 0 0 1 460.3,859.5" stroke="#c5c4c0" stroke-width="1.7" fill="none" stroke-linecap="round"/><path d="M519.7,935.9 A142.5,142.5 0 0 1 485.3,905.9" stroke="#c5c4c0" stroke-width="3.6" fill="none" stroke-linecap="round"/><path d="M543.7,686.0 A138.8,138.8 0 0 1 579.3,677.1" stroke="#c5c4c0" stroke-width="2.6" fill="none" stroke-linecap="round"/><path d="M623.4,680.4 A137.5,137.5 0 0 1 652.1,689.9" stroke="#c5c4c0" stroke-width="2.8" fill="none" stroke-linecap="round"/><path d="M649.3,691.1 A135.3,135.3 0 0 1 670.2,702.5" stroke="#c5c4c0" stroke-width="1.3" fill="none" stroke-linecap="round"/><path d="M485.7,733.0 A136.7,136.7 0 0 1 518.9,701.5" stroke="#c5c4c0" stroke-width="1.6" fill="none" stroke-linecap="round"/><path d="M491.7,718.8 A141.2,141.2 0 0 1 531.3,689.0" stroke="#c5c4c0" stroke-width="3.2" fill="none" stroke-linecap="round"/><path d="M520.2,936.3 A142.5,142.5 0 0 1 488.5,909.8" stroke="#c5c4c0" stroke-width="3.9" fill="none" stroke-linecap="round"/></g></svg>
<div class="t" style="left:487.9px;top:739.7px;font-size:80.5px;color:#000;-webkit-text-stroke:4px #000;transform:scaleX(1.000);transform-origin:0 0">G</div>
<div class="t" style="left:549.3px;top:739.7px;font-size:80.5px;color:#000;-webkit-text-stroke:4px #000;transform:scaleX(1.230);transform-origin:0 0">I</div>
<div class="t" style="left:574.9px;top:739.7px;font-size:80.5px;color:#000;-webkit-text-stroke:4px #000;transform:scaleX(1.010);transform-origin:0 0">G</div>
<div class="t" style="left:636.8px;top:739.7px;font-size:80.5px;color:#000;-webkit-text-stroke:4px #000;transform:scaleX(1.110);transform-origin:0 0">A</div>
<div class="t" style="left:466.5px;top:812.5px;font-size:52.1px;color:#000;-webkit-text-stroke:6px #000;transform:scaleX(1.100);transform-origin:0 0">Z</div>
<div class="t" style="left:466.5px;top:812.5px;font-size:52.1px;color:#c5c4c0;-webkit-text-stroke:2.2px #c5c4c0;transform:scaleX(1.100);transform-origin:0 0">Z</div>
<div class="t" style="left:506.1px;top:812.5px;font-size:52.1px;color:#000;-webkit-text-stroke:6px #000;transform:scaleX(0.890);transform-origin:0 0">E</div>
<div class="t" style="left:506.1px;top:812.5px;font-size:52.1px;color:#c5c4c0;-webkit-text-stroke:2.2px #c5c4c0;transform:scaleX(0.890);transform-origin:0 0">E</div>
<div class="t" style="left:543.0px;top:812.5px;font-size:52.1px;color:#000;-webkit-text-stroke:6px #000;transform:scaleX(0.920);transform-origin:0 0">S</div>
<div class="t" style="left:543.0px;top:812.5px;font-size:52.1px;color:#c5c4c0;-webkit-text-stroke:2.2px #c5c4c0;transform:scaleX(0.920);transform-origin:0 0">S</div>
<div class="t" style="left:581.0px;top:812.5px;font-size:52.1px;color:#000;-webkit-text-stroke:6px #000;transform:scaleX(0.990);transform-origin:0 0">T</div>
<div class="t" style="left:581.0px;top:812.5px;font-size:52.1px;color:#c5c4c0;-webkit-text-stroke:2.2px #c5c4c0;transform:scaleX(0.990);transform-origin:0 0">T</div>
<div class="t" style="left:619.0px;top:812.5px;font-size:52.1px;color:#000;-webkit-text-stroke:6px #000;transform:scaleX(1.030);transform-origin:0 0">A</div>
<div class="t" style="left:619.0px;top:812.5px;font-size:52.1px;color:#c5c4c0;-webkit-text-stroke:2.2px #c5c4c0;transform:scaleX(1.030);transform-origin:0 0">A</div>
<div class="t" style="left:666.9px;top:812.5px;font-size:52.1px;color:#000;-webkit-text-stroke:6px #000;transform:scaleX(1.200);transform-origin:0 0">W</div>
<div class="t" style="left:666.9px;top:812.5px;font-size:52.1px;color:#c5c4c0;-webkit-text-stroke:2.2px #c5c4c0;transform:scaleX(1.200);transform-origin:0 0">W</div>
</body></html>
